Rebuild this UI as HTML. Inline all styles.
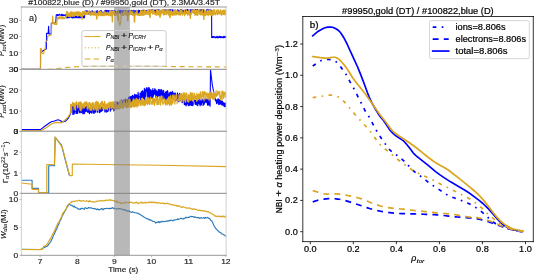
<!DOCTYPE html>
<html><head><meta charset="utf-8"><title>figure</title><style>
html,body{margin:0;padding:0;background:#fff;}
body{width:534px;height:274px;overflow:hidden;font-family:"Liberation Sans",sans-serif;}
svg{display:block;will-change:transform;}
</style></head><body>
<svg width="534" height="274" viewBox="0 0 534 274" version="1.1">
 
 <defs>
  <style type="text/css">*{stroke-linejoin: round; stroke-linecap: butt}</style>
 </defs>
 <g id="figure_1">
  <g id="patch_1">
   <path d="M 0 274 
L 534 274 
L 534 0 
L 0 0 
z
" style="fill: #ffffff"/>
  </g>
  <g id="axes_1">
   <g id="patch_2">
    <path d="M 21.4 69.4 
L 226.1 69.4 
L 226.1 7 
L 21.4 7 
z
" style="fill: #ffffff"/>
   </g>
   <g id="matplotlib.axis_1"/>
   <g id="matplotlib.axis_2">
    <g id="ytick_1">
     <g id="line2d_1">
      <defs>
       <path id="me94142550b" d="M 0 0 
L -1.9 0 
" style="stroke: #888888; stroke-width: 0.6"/>
      </defs>
      <g>
       <use href="#me94142550b" x="21.4" y="20.4" style="fill: #888888; stroke: #888888; stroke-width: 0.6"/>
      </g>
     </g>
     <g id="text_1">
      <text style="font-size: 7.696px; font-family: 'Liberation Sans', sans-serif; text-anchor: end; fill: #1c1c1c; stroke: #1c1c1c; stroke-width: 0.15px; stroke-linejoin: round" textLength="9.416" lengthAdjust="spacingAndGlyphs" x="18.3" y="23.211422" transform="rotate(-0 18.3 23.211422)">30</text>
     </g>
    </g>
    <g id="ytick_2">
     <g id="line2d_2">
      <g>
       <use href="#me94142550b" x="21.4" y="36.5" style="fill: #888888; stroke: #888888; stroke-width: 0.6"/>
      </g>
     </g>
     <g id="text_2">
      <text style="font-size: 7.696px; font-family: 'Liberation Sans', sans-serif; text-anchor: end; fill: #1c1c1c; stroke: #1c1c1c; stroke-width: 0.15px; stroke-linejoin: round" textLength="9.416" lengthAdjust="spacingAndGlyphs" x="18.3" y="39.311422" transform="rotate(-0 18.3 39.311422)">20</text>
     </g>
    </g>
    <g id="ytick_3">
     <g id="line2d_3">
      <g>
       <use href="#me94142550b" x="21.4" y="52.9" style="fill: #888888; stroke: #888888; stroke-width: 0.6"/>
      </g>
     </g>
     <g id="text_3">
      <text style="font-size: 7.696px; font-family: 'Liberation Sans', sans-serif; text-anchor: end; fill: #1c1c1c; stroke: #1c1c1c; stroke-width: 0.15px; stroke-linejoin: round" textLength="9.416" lengthAdjust="spacingAndGlyphs" x="18.3" y="55.711422" transform="rotate(-0 18.3 55.711422)">10</text>
     </g>
    </g>
    <g id="ytick_4">
     <g id="line2d_4">
      <g>
       <use href="#me94142550b" x="21.4" y="69.4" style="fill: #888888; stroke: #888888; stroke-width: 0.6"/>
      </g>
     </g>
     <g id="text_4">
      <text style="font-size: 7.696px; font-family: 'Liberation Sans', sans-serif; text-anchor: end; fill: #1c1c1c; stroke: #1c1c1c; stroke-width: 0.15px; stroke-linejoin: round" textLength="4.708" lengthAdjust="spacingAndGlyphs" x="18.3" y="72.211422" transform="rotate(-0 18.3 72.211422)">0</text>
     </g>
    </g>
   </g>
   <g id="line2d_5">
    <path d="M 21.4 69.4 
L 40.5 69.4 
L 40.6 53 
L 41.6 51.7 
L 44.9 49.5 
L 46.3 49 
L 46.6 33.4 
L 48.2 33.4 
L 48.6 26.3 
L 49 34 
L 51.2 34 
L 51.3 23.4 
L 55.8 22.3 
L 56.2 15 
L 56.4 15.328128 
L 56.65 15.254932 
L 56.9 14.448235 
L 57.15 14.430551 
L 57.4 15.271931 
L 57.65 15.530385 
L 57.9 14.53703 
L 58.15 14.557311 
L 58.4 15.358446 
L 58.65 14.927653 
L 59.15 14.731612 
L 59.4 14.37248 
L 59.65 14.897421 
L 59.9 14.665642 
L 60.15 14.790135 
L 60.65 15.314051 
L 60.9 15.230548 
L 61.15 15.392631 
L 61.4 14.320479 
L 61.65 15.273224 
L 61.9 15.096614 
L 62.15 15.527843 
L 62.4 15.630836 
L 62.65 14.314399 
L 62.9 15.499998 
L 63.15 14.602238 
L 63.4 15.230482 
L 63.9 15.522615 
L 64.15 15.632645 
L 64.4 15.245149 
L 64.65 15.537278 
L 65.15 14.576687 
L 65.4 14.485902 
L 66 16.8 
L 66.5 17.05 
L 66.75 17.919924 
L 67 16.238222 
L 67.25 17.916959 
L 67.5 16.542426 
L 67.75 16.776879 
L 68 17.713194 
L 68.25 16.744556 
L 68.5 17.157458 
L 68.75 16.044343 
L 69 17.580797 
L 69.5 16.577593 
L 69.75 17.643954 
L 70 16.5257 
L 70.25 16.850445 
L 70.5 16.220943 
L 70.75 16.730948 
L 71 16.34159 
L 71.25 16.448395 
L 71.5 17.575019 
L 71.75 16.482255 
L 72 16.940125 
L 72.25 17.969059 
L 72.5 17.938166 
L 73 17.135821 
L 73.25 16.475631 
L 73.5 16.266601 
L 73.75 17.951584 
L 74.25 16.190139 
L 74.5 17.326685 
L 74.75 17.622888 
L 75 17.304296 
L 75.25 17.865328 
L 75.5 16.063867 
L 75.75 17.101341 
L 76 16.865664 
L 76.25 16.10107 
L 76.5 17.363921 
L 76.75 17.756279 
L 77 17.26025 
L 77.25 16.444285 
L 77.5 17.734321 
L 77.75 17.041962 
L 78 17.046818 
L 78.25 17.579912 
L 78.5 16.244673 
L 78.75 17.699099 
L 79 17.448053 
L 79.25 17.641574 
L 79.5 16.320644 
L 79.75 17.668726 
L 80 16.320129 
L 80.25 16.132765 
L 80.5 17.760727 
L 81 17.797022 
L 81.25 16.900076 
L 81.75 16.011363 
L 82 17.372942 
L 82.5 17.726858 
L 82.75 16.485028 
L 83 16.362568 
L 83.25 17.359802 
L 83.75 17.941438 
L 84 16.249143 
L 84.5 17.827659 
L 84.7 12.5 
L 85 11.394188 
L 85.25 11.531252 
L 85.5 13.874092 
L 85.75 10.794322 
L 86 13.042743 
L 86.25 13.556612 
L 86.5 11.116444 
L 86.75 10.665496 
L 87 11.427779 
L 87.25 13.271393 
L 87.5 12.854206 
L 87.75 10.975455 
L 88.25 13.308927 
L 88.5 12.020847 
L 89 14.351843 
L 89.25 13.353142 
L 89.5 11.872929 
L 89.75 11.088681 
L 90.25 12.546672 
L 90.5 14.085327 
L 90.75 13.68298 
L 91 11.559818 
L 91.25 14.186793 
L 91.5 12.236605 
L 91.75 13.369723 
L 92 10.797993 
L 92.25 10.787214 
L 92.5 11.118519 
L 92.75 14.038912 
L 93 13.303341 
L 93.25 13.914636 
L 93.5 13.157624 
L 93.75 11.901801 
L 94.5 13.945313 
L 94.75 12.039095 
L 95 14.041126 
L 95.25 13.012784 
L 95.5 13.823019 
L 95.75 12.378909 
L 96 13.322713 
L 96.25 11.59827 
L 96.5 12.562976 
L 96.75 11.135499 
L 97.25 10.53404 
L 97.5 13.343745 
L 97.75 12.10346 
L 98 14.027573 
L 98.25 13.814429 
L 98.5 11.76807 
L 98.75 14.266378 
L 99 12.88271 
L 99.25 13.561543 
L 99.5 11.855143 
L 99.75 11.041276 
L 100.25 10.985426 
L 100.5 12.919709 
L 100.75 10.749548 
L 101 10.446678 
L 101.25 13.775724 
L 101.5 10.700131 
L 101.75 12.038498 
L 102 12.24914 
L 102.25 12.972865 
L 102.5 12.382385 
L 102.75 14.106492 
L 103.25 12.762794 
L 103.5 12.948191 
L 103.75 12.390845 
L 104 14.181109 
L 104.25 11.11275 
L 104.5 13.224933 
L 104.75 12.656878 
L 105 10.487687 
L 105.25 11.358201 
L 105.5 14.044098 
L 105.75 13.561416 
L 106 10.387653 
L 106.25 11.351786 
L 106.5 10.374461 
L 106.75 13.699653 
L 107 10.694523 
L 107.25 10.520491 
L 107.5 14.197549 
L 107.75 11.96241 
L 108 11.419979 
L 108.25 10.486004 
L 108.5 11.701755 
L 108.75 11.60182 
L 109 12.451191 
L 109.25 10.3449 
L 109.5 10.800402 
L 109.75 11.010191 
L 110 11.916722 
L 110.25 11.340272 
L 110.5 12.864031 
L 110.75 11.27321 
L 111 13.928511 
L 111.25 14.093595 
L 111.5 10.495201 
L 111.75 10.991484 
L 112 12.626647 
L 112.25 13.445984 
L 112.5 10.502455 
L 112.75 10.899934 
L 113.5 13.881424 
L 113.75 13.759392 
L 114 13.50881 
L 114.25 10.453338 
L 114.5 14.105077 
L 114.75 12.828479 
L 115 10.554842 
L 115.25 11.125545 
L 115.5 12.846697 
L 115.75 11.6232 
L 116 11.893506 
L 116.25 13.522996 
L 116.5 13.586746 
L 116.75 12.503264 
L 117 13.473464 
L 117.25 11.697 
L 117.5 14.065796 
L 117.75 12.759722 
L 118 14.039069 
L 118.25 10.395933 
L 118.5 13.761132 
L 118.75 12.545728 
L 119 13.172573 
L 119.25 10.875574 
L 119.5 12.486955 
L 119.75 11.213847 
L 120 10.579806 
L 120.25 10.253514 
L 120.5 13.818414 
L 120.75 12.994799 
L 121 10.904389 
L 121.25 11.087492 
L 121.5 11.940932 
L 121.75 13.512861 
L 122 10.604136 
L 122.25 13.99338 
L 122.5 13.915504 
L 122.75 11.028626 
L 123 12.85507 
L 123.25 11.455415 
L 123.5 13.067327 
L 123.75 10.491539 
L 124 11.942093 
L 124.25 12.625788 
L 124.75 13.038024 
L 125 13.7207 
L 125.25 10.996546 
L 125.5 10.694241 
L 126 12.52134 
L 126.25 13.927437 
L 126.5 13.086031 
L 126.75 13.184491 
L 127 13.957378 
L 127.25 11.074505 
L 127.5 11.042884 
L 127.75 11.678952 
L 128 11.168877 
L 128.5 13.875558 
L 128.75 10.670154 
L 129 12.23407 
L 129.25 12.936287 
L 129.5 12.033644 
L 129.75 13.742111 
L 130 13.146177 
L 130.25 13.635394 
L 130.5 10.520393 
L 130.75 10.795919 
L 131 10.369713 
L 131.25 13.451352 
L 131.5 13.877903 
L 131.75 10.20299 
L 132 13.308426 
L 132.25 13.091105 
L 132.5 13.695118 
L 132.75 11.03936 
L 133 13.036535 
L 133.25 10.919066 
L 133.5 10.383623 
L 133.75 13.137728 
L 134 10.273829 
L 134.25 12.968661 
L 134.5 11.072124 
L 134.75 11.947403 
L 135 13.615331 
L 135.25 10.923894 
L 135.5 11.831004 
L 136 10.736496 
L 136.25 11.853066 
L 136.5 10.703277 
L 136.75 13.292745 
L 137 12.614548 
L 137.25 11.048489 
L 137.5 13.844866 
L 137.75 11.275455 
L 138 12.826023 
L 138.25 13.049914 
L 138.5 10.974387 
L 138.75 10.144981 
L 139 13.576446 
L 139.25 13.774395 
L 139.5 10.641983 
L 139.75 10.585375 
L 140.5 13.848933 
L 140.75 13.761943 
L 141 13.827982 
L 141.25 10.849542 
L 141.5 12.467108 
L 142 10.774262 
L 142.25 10.222743 
L 142.5 10.545637 
L 142.75 11.211439 
L 143 10.267665 
L 143.25 10.460322 
L 143.5 10.114498 
L 143.75 12.487104 
L 144 11.795516 
L 144.25 10.737531 
L 144.5 12.022879 
L 144.75 11.414783 
L 145.25 13.508641 
L 145.5 11.095073 
L 145.75 12.505124 
L 146 10.591479 
L 146.25 13.496235 
L 146.5 12.369778 
L 146.75 10.364039 
L 147 10.688429 
L 147.25 10.347865 
L 147.5 10.405094 
L 147.75 10.840806 
L 148 13.059724 
L 148.25 11.44464 
L 148.5 10.707194 
L 148.75 11.251121 
L 149 10.654927 
L 149.25 12.71015 
L 149.5 9.948401 
L 149.75 10.706772 
L 150 10.823062 
L 150.25 10.316775 
L 150.5 12.682203 
L 150.75 10.295044 
L 151 10.703903 
L 151.25 9.879972 
L 151.5 12.708226 
L 151.75 10.917694 
L 152 12.328028 
L 152.25 10.367 
L 152.5 9.729067 
L 152.75 10.723715 
L 153 12.736627 
L 153.25 12.923455 
L 153.5 10.797828 
L 153.75 12.937095 
L 154 9.764668 
L 154.25 11.658041 
L 154.5 10.427234 
L 154.75 11.131055 
L 155 10.285784 
L 155.25 13.035139 
L 155.5 10.552595 
L 155.75 13.180533 
L 156 9.87959 
L 156.25 11.036344 
L 156.5 11.090181 
L 156.75 12.360895 
L 157 10.660623 
L 157.25 11.330202 
L 157.5 9.704867 
L 157.75 10.506403 
L 158 12.372996 
L 158.25 9.790697 
L 158.5 11.113459 
L 158.75 10.206378 
L 159.25 9.805003 
L 159.5 12.6266 
L 159.75 12.17255 
L 160 10.691173 
L 160.25 10.740925 
L 160.5 12.315364 
L 160.75 11.840826 
L 161 12.94008 
L 161.25 12.950789 
L 161.5 11.168051 
L 161.75 12.06031 
L 162 11.575152 
L 162.25 10.424899 
L 162.5 11.015921 
L 162.75 12.289391 
L 163 11.613985 
L 163.25 11.956303 
L 163.5 11.197961 
L 163.75 13.055654 
L 164 12.482729 
L 164.25 9.809263 
L 164.5 12.609913 
L 164.75 12.945005 
L 165 12.618409 
L 165.25 10.548277 
L 165.5 10.644947 
L 166 9.571319 
L 166.5 12.729909 
L 167 12.071998 
L 167.25 12.719162 
L 167.5 12.060228 
L 167.75 10.116569 
L 168 12.573238 
L 168.25 10.643405 
L 168.5 12.857702 
L 168.75 10.485198 
L 169 9.684938 
L 169.25 12.320484 
L 169.5 9.734982 
L 169.75 12.793964 
L 170 10.826341 
L 170.25 12.495238 
L 170.5 9.561563 
L 170.75 11.571054 
L 171 12.127462 
L 171.25 9.80513 
L 171.5 11.859235 
L 171.75 9.848924 
L 172 10.401741 
L 172.25 10.634559 
L 172.5 11.904951 
L 172.75 9.807112 
L 173 9.986536 
L 173.25 12.499112 
L 173.5 12.270377 
L 174 10.322002 
L 174.25 12.184278 
L 174.75 10.429457 
L 175 12.808374 
L 175.25 10.043575 
L 175.5 12.577026 
L 175.75 11.897787 
L 176.25 12.147082 
L 176.5 12.385222 
L 176.75 12.828514 
L 177 12.954473 
L 177.25 10.227947 
L 177.5 9.917177 
L 177.75 12.877836 
L 178 10.050284 
L 178.25 10.111888 
L 178.5 12.580295 
L 178.75 13.096258 
L 179 12.710505 
L 179.5 10.675643 
L 179.75 13.165117 
L 180 12.342338 
L 180.25 11.943134 
L 180.5 9.433907 
L 180.75 10.021211 
L 181 9.441127 
L 181.25 12.911713 
L 181.5 10.161724 
L 181.75 9.940711 
L 182 11.749807 
L 182.25 10.047829 
L 182.75 13.045769 
L 183 12.773573 
L 183.25 10.191755 
L 183.5 12.940592 
L 183.75 10.773148 
L 184 11.462002 
L 184.25 10.479531 
L 184.5 13.199873 
L 184.75 10.413066 
L 185 12.3466 
L 185.25 11.906208 
L 185.5 12.17218 
L 185.75 9.723376 
L 186.25 13.191019 
L 186.75 10.026592 
L 187 9.561578 
L 187.25 10.49826 
L 187.5 12.375929 
L 187.75 9.475815 
L 188 9.549358 
L 188.25 12.052168 
L 188.5 12.831466 
L 188.75 10.945781 
L 189 11.923984 
L 189.25 10.23417 
L 189.5 10.288266 
L 189.75 11.126921 
L 190 10.10199 
L 190.25 11.017714 
L 190.5 9.866378 
L 190.75 12.965136 
L 191 12.017253 
L 191.25 9.692182 
L 191.5 10.01422 
L 191.75 12.659864 
L 192 10.662838 
L 192.25 10.244165 
L 192.5 9.471224 
L 192.75 12.12118 
L 193 11.695637 
L 193.25 12.696894 
L 193.5 9.936446 
L 193.75 12.399271 
L 194 12.652972 
L 194.25 12.643209 
L 194.5 12.37855 
L 195 9.545538 
L 195.25 12.002985 
L 195.5 9.478511 
L 195.75 9.665782 
L 196 10.814332 
L 196.25 9.777026 
L 196.75 12.731746 
L 197 9.951087 
L 197.25 12.55641 
L 197.5 13.192581 
L 197.75 9.514212 
L 198.25 12.240289 
L 198.5 12.326819 
L 198.75 10.314496 
L 199 12.592912 
L 199.25 10.658362 
L 199.5 10.039908 
L 199.75 11.431988 
L 200 11.876009 
L 200.25 12.688167 
L 200.5 12.078777 
L 200.75 9.657193 
L 201 11.715875 
L 201.25 10.552258 
L 201.5 12.23122 
L 201.75 9.538266 
L 202 12.053507 
L 202.25 12.534166 
L 202.5 9.52309 
L 202.75 9.446842 
L 203 12.863545 
L 203.25 12.874808 
L 203.5 9.959134 
L 203.75 12.960349 
L 204 10.803643 
L 204.25 11.439132 
L 204.5 11.104554 
L 204.75 10.517366 
L 205 12.839102 
L 205.25 11.868207 
L 205.5 12.991781 
L 205.75 11.915009 
L 206 12.967911 
L 206.25 11.416279 
L 206.5 11.12646 
L 206.75 11.700039 
L 207 9.418016 
L 207.25 12.452456 
L 207.5 9.83786 
L 207.75 13.027646 
L 208 9.535895 
L 208.25 12.242624 
L 208.5 12.455696 
L 208.75 11.560116 
L 209 9.697153 
L 209.25 12.601211 
L 209.5 10.465476 
L 209.75 10.343487 
L 210 12.184942 
L 210.25 13.113866 
L 210.5 9.698393 
L 211 12.11415 
L 211.25 10.303807 
L 211.6 11.5 
L 211.7 37.4 
L 212 36.511651 
L 212.25 36.717656 
L 212.5 37.726295 
L 212.75 37.377933 
L 213 36.508658 
L 213.25 37.022145 
L 213.5 37.115354 
L 213.75 36.587018 
L 214 37.608088 
L 214.25 36.51701 
L 214.75 37.213549 
L 215 36.992379 
L 215.75 37.889943 
L 216 36.734394 
L 216.25 37.44226 
L 216.5 37.514245 
L 216.75 36.736632 
L 217 36.330479 
L 217.25 37.890845 
L 217.5 36.734613 
L 217.75 36.755155 
L 218 37.772378 
L 218.5 37.025841 
L 218.75 37.596968 
L 219 36.339085 
L 219.25 37.49146 
L 219.75 36.407861 
L 220 37.408039 
L 220.25 37.793143 
L 220.5 36.557159 
L 220.75 37.347464 
L 221 36.684247 
L 221.25 37.515176 
L 221.5 37.482361 
L 221.75 36.555785 
L 222 37.630739 
L 222.25 37.371313 
L 222.5 37.407679 
L 222.75 37.606336 
L 223 36.8742 
L 223.25 37.511521 
L 223.5 37.675963 
L 223.75 36.36604 
L 224 37.62966 
L 224.25 36.793582 
L 224.5 36.959743 
L 224.75 36.411417 
L 225 37.396224 
L 225.25 36.614071 
L 225.5 37.637437 
L 225.75 36.581796 
L 226 37.150231 
L 226.25 36.778636 
L 226.5 37.243275 
L 226.5 37.243275 
" clip-path="url(#pbd2e91b6e9)" style="fill: none; stroke: #0000ff; stroke-width: 1.1; stroke-linecap: square"/>
   </g>
   <g id="line2d_6">
    <path d="M 21.4 69.4 
L 40.4 69.4 
L 40.4 48.5 
L 41.2 48.5 
L 42 53.5 
L 43.5 53.8 
L 45.3 47.7 
L 45.7 41.8 
L 47.3 40.4 
L 47.5 36.5 
L 51.5 34.5 
L 51.7 23.4 
L 52.3 23.3 
L 52.7 16.1 
L 53.1 22.7 
L 53.3 23.830862 
L 53.55 23.524494 
L 53.8 23.770624 
L 54.05 22.452441 
L 54.3 23.684744 
L 54.55 24.347749 
L 54.8 23.191348 
L 55.05 22.634304 
L 55.3 24.418364 
L 55.55 23.955138 
L 55.8 22.887633 
L 56.05 24.018815 
L 56.3 24.616941 
L 56.55 23.016609 
L 56.8 24.458384 
L 57.3 17.8 
L 58 16.787721 
L 58.25 18.40461 
L 58.5 17.725367 
L 58.75 19.174301 
L 59 18.880787 
L 59.25 18.84805 
L 59.5 16.708141 
L 59.75 18.123476 
L 60 18.279996 
L 60.25 16.705384 
L 60.5 17.790564 
L 61 17.07429 
L 61.25 18.757022 
L 61.75 16.819463 
L 62 17.454962 
L 62.25 19.019633 
L 62.5 17.511714 
L 63 16.740771 
L 63.25 17.966534 
L 63.5 18.44212 
L 63.75 17.578529 
L 64 18.87353 
L 64.25 18.016398 
L 64.5 18.757986 
L 64.75 18.154631 
L 65 18.232072 
L 65.5 16.833727 
L 66 16.723405 
L 66.25 14.138065 
L 66.5 16.859604 
L 66.75 11.392135 
L 67 14.842203 
L 67.25 12.997649 
L 67.5 15.937882 
L 67.75 11.858688 
L 68 16.271988 
L 68.25 14.361116 
L 68.5 16.39958 
L 68.75 13.679663 
L 69 13.318535 
L 69.25 15.793956 
L 69.5 16.741823 
L 69.75 12.912066 
L 70 16.644667 
L 70.25 16.4434 
L 70.5 11.853566 
L 70.75 14.724043 
L 71 15.273306 
L 71.25 16.458643 
L 71.5 15.035146 
L 71.75 11.626263 
L 72 13.806001 
L 72.25 13.748965 
L 72.5 13.834918 
L 72.75 16.4561 
L 73 12.740706 
L 73.25 12.061685 
L 73.5 14.033678 
L 73.75 14.812689 
L 74 16.30369 
L 74.5 12.273407 
L 74.75 16.223627 
L 75 13.659302 
L 75.25 14.951148 
L 75.75 12.003337 
L 76 15.012435 
L 76.25 15.401084 
L 76.5 11.869362 
L 76.75 13.356271 
L 77 12.741699 
L 77.25 11.768131 
L 77.5 12.007669 
L 77.75 16.218915 
L 78 15.85845 
L 78.25 12.83581 
L 78.5 15.15327 
L 78.75 11.180471 
L 79 15.947961 
L 79.25 13.982788 
L 79.5 15.496635 
L 79.75 12.250064 
L 80 12.769731 
L 80.25 12.612656 
L 80.5 16.120728 
L 80.75 13.066687 
L 81 13.598238 
L 81.25 16.012662 
L 81.5 15.774279 
L 81.75 12.843722 
L 82 19.2 
L 82.25 19.2 
L 82.5 11.45161 
L 82.75 12.809211 
L 83 15.586688 
L 83.25 15.750679 
L 83.5 12.004304 
L 83.75 11.324393 
L 84 15.149982 
L 84.25 14.333756 
L 84.5 12.012296 
L 84.75 13.578389 
L 85 11.290007 
L 85.25 14.699708 
L 85.5 13.73568 
L 85.75 14.71792 
L 86 11.347179 
L 86.25 14.418039 
L 86.5 12.635292 
L 86.75 13.471159 
L 87 12.451443 
L 87.25 14.354713 
L 87.5 13.9874 
L 87.75 14.260936 
L 88 11.219847 
L 88.25 11.914133 
L 88.5 11.248954 
L 88.75 12.681054 
L 89 13.279927 
L 89.25 11.409259 
L 89.5 14.508619 
L 89.75 13.324005 
L 90 13.46173 
L 90.25 14.133277 
L 90.5 15.703818 
L 90.75 14.080672 
L 91 11.308471 
L 91.25 11.53141 
L 91.5 14.62368 
L 91.75 12.336751 
L 92 14.911346 
L 92.5 12.623241 
L 92.75 14.832367 
L 93 11.670737 
L 93.25 12.136163 
L 93.5 12.167709 
L 93.75 12.808824 
L 94 15.566928 
L 94.25 15.155681 
L 94.5 15.194295 
L 94.75 14.280512 
L 95 10.906116 
L 95.5 13.432694 
L 95.75 15.519685 
L 96 12.502459 
L 96.25 13.804035 
L 96.5 18.9 
L 97 18.9 
L 97.25 14.062718 
L 97.5 13.620529 
L 97.75 14.249736 
L 98 13.226538 
L 98.25 11.303448 
L 98.5 15.496411 
L 98.75 15.800743 
L 99 15.216235 
L 99.25 12.416229 
L 99.5 14.257979 
L 99.75 14.929253 
L 100 11.06685 
L 100.25 15.011597 
L 100.5 11.156299 
L 100.75 15.664757 
L 101 11.845245 
L 101.25 15.759301 
L 101.5 11.795914 
L 102 15.189328 
L 102.25 15.854699 
L 102.5 14.600597 
L 102.75 15.198947 
L 103 12.582288 
L 103.25 14.81146 
L 103.5 12.537625 
L 103.75 15.605169 
L 104 14.912798 
L 104.25 12.501215 
L 104.5 14.95892 
L 104.75 11.026175 
L 105 15.577572 
L 105.25 14.518295 
L 105.5 12.21321 
L 105.75 14.27832 
L 106 14.949013 
L 106.25 14.174992 
L 106.5 15.403246 
L 106.75 12.679451 
L 107 12.160692 
L 107.25 12.424368 
L 107.5 11.965203 
L 107.75 13.089245 
L 108 14.809859 
L 108.25 15.339942 
L 108.5 14.181299 
L 109 15.744436 
L 109.25 14.318215 
L 109.5 11.045154 
L 109.75 14.132615 
L 110 10.764323 
L 110.25 14.403154 
L 110.5 15.854324 
L 110.75 13.139868 
L 111 15.576183 
L 111.25 10.747553 
L 111.5 15.709604 
L 111.75 11.38677 
L 112 15.160834 
L 112.25 21.9 
L 112.5 21.9 
L 112.75 11.214939 
L 113 10.800667 
L 113.25 14.74854 
L 113.5 14.71765 
L 113.75 11.162943 
L 114 14.082448 
L 114.25 11.773476 
L 114.5 15.398428 
L 114.75 11.198272 
L 115.25 15.363599 
L 115.5 13.557856 
L 116 15.002324 
L 116.25 14.506458 
L 116.5 15.06559 
L 116.75 11.584725 
L 117 15.442383 
L 117.25 13.259124 
L 117.5 15.462557 
L 117.75 20 
L 118.25 20 
L 118.5 11.027628 
L 118.75 15.256499 
L 119 23 
L 119.5 23 
L 119.75 25.5 
L 120 25.5 
L 120.25 23 
L 120.75 23 
L 121 14.899817 
L 121.25 12.28211 
L 121.5 15.30592 
L 121.75 13.286028 
L 122 15.556285 
L 122.25 14.77811 
L 122.5 15.768492 
L 122.75 14.487451 
L 123 11.951877 
L 123.5 15.535162 
L 123.75 15.464724 
L 124 11.631092 
L 124.5 11.635526 
L 124.75 14.013792 
L 125 11.352399 
L 125.25 14.432244 
L 125.5 11.961374 
L 125.75 15.064727 
L 126 11.587827 
L 126.25 15.458499 
L 126.5 12.01176 
L 126.75 10.617526 
L 127 11.178156 
L 127.25 14.954921 
L 127.5 20.7 
L 128 20.7 
L 128.25 12.474765 
L 128.5 14.079669 
L 129 12.810098 
L 129.25 15.312039 
L 129.5 10.590195 
L 129.75 12.248205 
L 130 12.677745 
L 130.25 14.290149 
L 130.5 14.510637 
L 130.75 10.431647 
L 131 10.841115 
L 131.5 11.972454 
L 131.75 14.694922 
L 132 14.569426 
L 132.25 15.426778 
L 132.5 12.34109 
L 132.75 12.44394 
L 133 11.014543 
L 133.25 15.276947 
L 133.5 15.290975 
L 133.75 15.54328 
L 134 14.512033 
L 134.25 21.9 
L 134.75 21.9 
L 135 11.893461 
L 135.25 14.619635 
L 135.5 14.624972 
L 135.75 13.885643 
L 136 15.005931 
L 136.25 14.200241 
L 136.5 11.484202 
L 136.75 10.565559 
L 137 11.870644 
L 137.25 11.215066 
L 137.5 15.296872 
L 137.75 13.327417 
L 138.25 15.381519 
L 138.5 14.759374 
L 138.75 15.113029 
L 139 13.507817 
L 139.5 15.510525 
L 139.75 12.50501 
L 140.25 15.48421 
L 140.5 11.362752 
L 140.75 10.543702 
L 141.25 15.158579 
L 141.75 11.078938 
L 142 15.553623 
L 142.25 12.561537 
L 142.5 12.298088 
L 142.75 10.356299 
L 143 12.213608 
L 143.25 15.474956 
L 143.5 12.197909 
L 143.75 14.494357 
L 144 15.211208 
L 144.25 9.885867 
L 144.5 14.004015 
L 144.75 10.494453 
L 145.25 14.797195 
L 145.5 11.568647 
L 145.75 14.085771 
L 146 11.118743 
L 146.25 13.339326 
L 146.5 14.112593 
L 147 11.250142 
L 147.25 14.11287 
L 147.5 10.21579 
L 147.75 11.220448 
L 148 14.323031 
L 148.5 9.903402 
L 148.75 13.684628 
L 149 14.930543 
L 149.25 10.225405 
L 149.5 14.924683 
L 149.75 17.5 
L 150.25 17.5 
L 150.5 10.624413 
L 150.75 10.123353 
L 151 11.734646 
L 151.25 11.699972 
L 151.5 12.400416 
L 151.75 12.514481 
L 152 9.733134 
L 152.25 10.579462 
L 152.5 10.03113 
L 152.75 14.421777 
L 153 10.063432 
L 153.25 13.570878 
L 153.5 9.747812 
L 153.75 13.492613 
L 154 11.736352 
L 154.25 12.37764 
L 154.5 14.049764 
L 154.75 10.942878 
L 155 13.756274 
L 155.25 14.926111 
L 155.75 13.166424 
L 156 13.732004 
L 156.25 14.826963 
L 156.5 9.448201 
L 156.75 15.335865 
L 157 12.007018 
L 157.25 14.843652 
L 157.5 9.61302 
L 157.75 10.806378 
L 158 12.891027 
L 158.25 12.973736 
L 158.5 15.084181 
L 158.75 10.998133 
L 159 10.559426 
L 159.25 13.418715 
L 159.5 10.155595 
L 159.75 17.2 
L 160.25 17.2 
L 160.75 10.505192 
L 161 14.980235 
L 161.25 9.865205 
L 161.5 12.40043 
L 161.75 13.216359 
L 162 12.329027 
L 162.25 9.646509 
L 162.5 12.608087 
L 162.75 10.000388 
L 163 9.567755 
L 163.25 14.960374 
L 163.5 10.704495 
L 163.75 9.703809 
L 164 9.416939 
L 164.25 14.752265 
L 164.5 14.717351 
L 164.75 14.11235 
L 165 14.37746 
L 165.25 10.814742 
L 165.5 13.125086 
L 165.75 14.072625 
L 166 10.657317 
L 166.25 14.050316 
L 166.5 14.418004 
L 166.75 12.658726 
L 167 13.536699 
L 167.25 9.495197 
L 167.5 11.423177 
L 167.75 11.084755 
L 168 11.314764 
L 168.25 15.097727 
L 168.5 15.182816 
L 168.75 9.669107 
L 169 13.160604 
L 169.25 10.390709 
L 169.75 17.8 
L 170.25 17.8 
L 170.5 11.218745 
L 170.75 13.962209 
L 171 14.545264 
L 171.25 9.609216 
L 171.75 11.417822 
L 172 15.31051 
L 172.5 13.472226 
L 172.75 15.346385 
L 173 11.579407 
L 173.25 14.496526 
L 173.5 10.693956 
L 173.75 10.759508 
L 174 15.103982 
L 174.25 14.597721 
L 174.5 13.470696 
L 174.75 10.210906 
L 175 11.078627 
L 175.25 15.162363 
L 175.75 9.620423 
L 176 10.617659 
L 176.5 14.843661 
L 176.75 12.036839 
L 177 10.703085 
L 177.25 14.492799 
L 177.5 11.070027 
L 177.75 10.821521 
L 178 13.182702 
L 178.25 12.687645 
L 178.5 14.871009 
L 178.75 12.027224 
L 179 13.640605 
L 179.25 12.068994 
L 179.75 15.078404 
L 180 9.907394 
L 180.25 15.047045 
L 180.5 15.091409 
L 180.75 11.399651 
L 181 9.441612 
L 181.5 13.843328 
L 181.75 10.462638 
L 182 10.369836 
L 182.25 11.423749 
L 182.5 15.089199 
L 182.75 13.366448 
L 183 13.993345 
L 183.25 13.288286 
L 183.5 13.858321 
L 183.75 11.931515 
L 184 12.491141 
L 184.25 9.979129 
L 184.5 15.602631 
L 184.75 10.307404 
L 185 14.682769 
L 185.25 13.616089 
L 185.5 14.32274 
L 185.75 12.861352 
L 186 13.03778 
L 186.5 9.839466 
L 186.75 13.59161 
L 187 13.499349 
L 187.25 11.24513 
L 187.5 15.24315 
L 187.75 15.285035 
L 188 11.474545 
L 188.25 12.161454 
L 188.5 10.576011 
L 188.75 14.170655 
L 189 10.464699 
L 189.25 11.173345 
L 189.5 15.451025 
L 189.75 10.248523 
L 190.25 18.5 
L 190.5 18.5 
L 190.75 14.689497 
L 191 13.318863 
L 191.25 14.515236 
L 191.5 11.563185 
L 191.75 11.155555 
L 192 10.028599 
L 192.25 10.123268 
L 192.5 12.789773 
L 192.75 11.698416 
L 193 9.76798 
L 193.25 10.456727 
L 193.5 12.412589 
L 193.75 9.718472 
L 194 9.522339 
L 194.25 13.877526 
L 194.5 9.938612 
L 194.75 11.843116 
L 195 15.385489 
L 195.25 9.940143 
L 195.5 11.686989 
L 195.75 10.510139 
L 196 14.630252 
L 196.25 12.810312 
L 196.5 9.913773 
L 196.75 14.452597 
L 197 15.337702 
L 197.25 14.626907 
L 197.5 10.655962 
L 197.75 15.685394 
L 198.5 9.947533 
L 198.75 12.946179 
L 199 9.898602 
L 199.25 10.168492 
L 199.5 13.838067 
L 199.75 14.426094 
L 200 13.609924 
L 200.25 12.13401 
L 200.5 14.918239 
L 200.75 15.032103 
L 201 9.688401 
L 201.25 14.365623 
L 201.5 14.768608 
L 202 11.980578 
L 202.25 14.585974 
L 202.5 9.649508 
L 202.75 15.285066 
L 203 13.037681 
L 203.5 13.944942 
L 203.75 19.4 
L 204 19.4 
L 204.25 10.841595 
L 204.5 10.379827 
L 204.75 9.591009 
L 205 15.055672 
L 205.25 15.671359 
L 205.5 14.110016 
L 205.75 11.186694 
L 206 11.807476 
L 206.25 14.827432 
L 206.5 12.407842 
L 206.75 11.747027 
L 207 14.65432 
L 207.25 11.003143 
L 207.5 10.086243 
L 207.75 11.784288 
L 208 15.229806 
L 208.25 15.814537 
L 208.5 10.707402 
L 208.75 14.673907 
L 209 10.074551 
L 209.25 13.956419 
L 209.5 10.166803 
L 209.75 10.691676 
L 210 14.689805 
L 210.25 10.117819 
L 210.5 12.903853 
L 210.75 11.442706 
L 211 15.815716 
L 211.25 14.605401 
L 211.5 11.091694 
L 211.75 15.780931 
L 212 13.823597 
L 212.25 10.367838 
L 212.5 11.101542 
L 212.75 14.8778 
L 213 15.669058 
L 213.25 9.736796 
L 213.5 13.391215 
L 213.75 10.604659 
L 214 14.28795 
L 214.25 9.576454 
L 214.5 14.491041 
L 214.75 13.12476 
L 215 13.849386 
L 215.25 12.510599 
L 215.75 15.02979 
L 216 9.943066 
L 216.25 11.46349 
L 216.5 10.62178 
L 217 13.649268 
L 217.25 11.90715 
L 217.5 14.776864 
L 217.75 9.626197 
L 218 10.425552 
L 218.5 10.040796 
L 218.75 13.657238 
L 219 14.193622 
L 219.25 11.607363 
L 219.5 14.320675 
L 219.75 11.616335 
L 220 13.54769 
L 220.25 9.784108 
L 220.5 11.511014 
L 220.75 9.877018 
L 221 14.622828 
L 221.25 14.073517 
L 221.5 15.20132 
L 221.75 15.327722 
L 222.25 10.340941 
L 222.5 11.255066 
L 222.75 13.921173 
L 223 14.230936 
L 223.25 14.341767 
L 223.5 10.116191 
L 223.75 10.246488 
L 224 14.470032 
L 224.25 10.023227 
L 224.5 12.930119 
L 224.75 12.19007 
L 225 15.030783 
L 225.25 10.059331 
L 225.5 14.578886 
L 225.75 11.478152 
L 226 14.216888 
L 226.25 10.465337 
L 226.5 13.819136 
L 226.5 13.819136 
" clip-path="url(#pbd2e91b6e9)" style="fill: none; stroke: #daa520; stroke-width: 1.1; stroke-linecap: square"/>
   </g>
   <g id="line2d_7">
    <path d="M 21.4 69.6 
L 44 69.5 
L 52 69 
L 60 68.2 
L 68 67.3 
L 76 66.7 
L 90 66.4 
L 140 66.3 
L 226.5 67 
" clip-path="url(#pbd2e91b6e9)" style="fill: none; stroke-dasharray: 5,3.8; stroke-dashoffset: 0; stroke: #daa520; stroke-width: 1.1"/>
   </g>
   <g id="patch_3">
    <path d="M 21.4 69.4 
L 21.4 7 
" style="fill: none; stroke: #d0d0d0; stroke-linejoin: miter; stroke-linecap: square"/>
   </g>
   <g id="patch_4">
    <path d="M 226.1 69.4 
L 226.1 7 
" style="fill: none; stroke: #d0d0d0; stroke-linejoin: miter; stroke-linecap: square"/>
   </g>
   <g id="patch_5">
    <path d="M 21.4 69.4 
L 226.1 69.4 
" style="fill: none; stroke: #999999; stroke-linejoin: miter; stroke-linecap: square"/>
   </g>
   <g id="patch_6">
    <path d="M 21.4 7 
L 226.1 7 
" style="fill: none; stroke: #999999; stroke-linejoin: miter; stroke-linecap: square"/>
   </g>
  </g>
  <g id="axes_2">
   <g id="patch_7">
    <path d="M 21.4 131.3 
L 226.1 131.3 
L 226.1 69.4 
L 21.4 69.4 
z
" style="fill: #ffffff"/>
   </g>
   <g id="matplotlib.axis_3"/>
   <g id="matplotlib.axis_4">
    <g id="ytick_5">
     <g id="line2d_8">
      <g>
       <use href="#me94142550b" x="21.4" y="69.4" style="fill: #888888; stroke: #888888; stroke-width: 0.6"/>
      </g>
     </g>
     <g id="text_5">
      <text style="font-size: 7.696px; font-family: 'Liberation Sans', sans-serif; text-anchor: end; fill: #1c1c1c; stroke: #1c1c1c; stroke-width: 0.15px; stroke-linejoin: round" textLength="9.416" lengthAdjust="spacingAndGlyphs" x="18.3" y="72.211422" transform="rotate(-0 18.3 72.211422)">30</text>
     </g>
    </g>
    <g id="ytick_6">
     <g id="line2d_9">
      <g>
       <use href="#me94142550b" x="21.4" y="90.1" style="fill: #888888; stroke: #888888; stroke-width: 0.6"/>
      </g>
     </g>
     <g id="text_6">
      <text style="font-size: 7.696px; font-family: 'Liberation Sans', sans-serif; text-anchor: end; fill: #1c1c1c; stroke: #1c1c1c; stroke-width: 0.15px; stroke-linejoin: round" textLength="9.416" lengthAdjust="spacingAndGlyphs" x="18.3" y="92.911422" transform="rotate(-0 18.3 92.911422)">20</text>
     </g>
    </g>
    <g id="ytick_7">
     <g id="line2d_10">
      <g>
       <use href="#me94142550b" x="21.4" y="111.2" style="fill: #888888; stroke: #888888; stroke-width: 0.6"/>
      </g>
     </g>
     <g id="text_7">
      <text style="font-size: 7.696px; font-family: 'Liberation Sans', sans-serif; text-anchor: end; fill: #1c1c1c; stroke: #1c1c1c; stroke-width: 0.15px; stroke-linejoin: round" textLength="9.416" lengthAdjust="spacingAndGlyphs" x="18.3" y="114.011422" transform="rotate(-0 18.3 114.011422)">10</text>
     </g>
    </g>
    <g id="ytick_8">
     <g id="line2d_11">
      <g>
       <use href="#me94142550b" x="21.4" y="131.3" style="fill: #888888; stroke: #888888; stroke-width: 0.6"/>
      </g>
     </g>
     <g id="text_8">
      <text style="font-size: 7.696px; font-family: 'Liberation Sans', sans-serif; text-anchor: end; fill: #1c1c1c; stroke: #1c1c1c; stroke-width: 0.15px; stroke-linejoin: round" textLength="4.708" lengthAdjust="spacingAndGlyphs" x="18.3" y="134.111422" transform="rotate(-0 18.3 134.111422)">0</text>
     </g>
    </g>
   </g>
   <g id="line2d_12">
    <path d="M 21.4 129.6 
L 40.4 129.6 
L 45.5 125.7 
L 50.7 122 
L 54.3 121 
L 58 119.8 
L 60.1 120.5 
L 62.3 122 
L 65.3 121.3 
L 68.2 118.4 
L 70.4 114 
L 70.6 112.861904 
L 70.85 112.885664 
L 71.6 104.954568 
L 71.85 107.946782 
L 72.1 108.221365 
L 72.35 104.892833 
L 72.6 104.923961 
L 72.85 114.45783 
L 73.1 111.417488 
L 73.35 106.512006 
L 73.6 108.530655 
L 73.85 114.246274 
L 74.35 113.16881 
L 74.6 108.053876 
L 74.85 109.338032 
L 75.1 111.647778 
L 75.35 105.052931 
L 75.6 110.350563 
L 75.85 106.866229 
L 76.1 113.450279 
L 76.35 105.091787 
L 76.6 111.663729 
L 76.85 113.363107 
L 77.1 106.476287 
L 77.35 113.568285 
L 77.6 113.373289 
L 77.85 104.743902 
L 78.1 111.923909 
L 78.35 104.613774 
L 78.6 109.589503 
L 78.85 108.563773 
L 79.1 106.281089 
L 79.35 107.391051 
L 79.6 112.796593 
L 79.85 107.312414 
L 80.1 105.823067 
L 80.35 111.808652 
L 80.6 108.680635 
L 80.85 112.680926 
L 81.1 106.524274 
L 81.35 107.285035 
L 81.6 112.645304 
L 81.85 109.56826 
L 82.1 109.543109 
L 82.6 104.640458 
L 82.85 113.672524 
L 83.1 105.185136 
L 83.35 112.92365 
L 83.6 107.654502 
L 83.85 113.752267 
L 84.1 107.957789 
L 84.35 113.60633 
L 84.85 106.40542 
L 85.1 111.932218 
L 85.35 111.30272 
L 85.6 111.381518 
L 86.1 106.193577 
L 86.35 110.923894 
L 86.6 105.217963 
L 86.85 111.386683 
L 87.1 110.827986 
L 87.35 107.56995 
L 87.6 112.283986 
L 87.85 105.882601 
L 88.1 107.67808 
L 88.35 112.235291 
L 88.6 107.552668 
L 88.85 111.46715 
L 89.1 110.48885 
L 89.35 113.335898 
L 89.6 113.71157 
L 89.85 111.504307 
L 90.1 112.22494 
L 90.35 105.438317 
L 90.6 111.365278 
L 90.85 112.501007 
L 91.1 107.650883 
L 91.35 109.721411 
L 91.6 108.552468 
L 91.85 113.317992 
L 92.1 106.78373 
L 92.35 107.601631 
L 92.6 104.159444 
L 93.1 110.462826 
L 93.35 113.043956 
L 93.6 112.941081 
L 93.85 106.799199 
L 94.1 113.409819 
L 94.35 105.559926 
L 94.6 112.080254 
L 94.85 105.290839 
L 95.1 107.50487 
L 95.35 104.608518 
L 95.6 112.30273 
L 95.85 112.051938 
L 96.1 105.099703 
L 96.35 109.136084 
L 96.6 106.059297 
L 96.85 108.48304 
L 97.1 109.421417 
L 97.35 104.784802 
L 97.6 112.233958 
L 97.85 106.184 
L 98.1 107.824502 
L 98.35 104.36759 
L 98.6 103.947903 
L 99.1 106.697306 
L 99.35 112.624589 
L 99.6 112.313277 
L 99.85 108.16226 
L 100.1 107.818547 
L 100.6 112.010537 
L 100.85 106.577957 
L 101.1 111.457396 
L 101.35 107.150615 
L 101.6 109.629915 
L 101.85 110.944038 
L 102.1 108.435699 
L 102.35 110.508617 
L 102.6 110.552723 
L 102.85 103.810121 
L 103.1 104.047726 
L 103.6 105.387586 
L 103.85 105.292085 
L 104.1 104.083235 
L 104.35 105.385363 
L 104.85 111.968943 
L 105.1 106.499466 
L 105.35 106.64672 
L 105.6 107.134439 
L 105.85 110.220721 
L 106.35 112.293386 
L 106.6 106.678251 
L 106.85 110.397341 
L 107.1 106.336783 
L 107.35 111.336257 
L 107.6 105.358296 
L 107.85 111.673115 
L 108.1 108.210541 
L 108.35 110.471958 
L 108.85 106.029599 
L 109.1 107.919193 
L 109.35 103.892103 
L 109.6 103.827651 
L 109.85 108.481185 
L 110.1 107.584556 
L 110.35 111.116739 
L 110.6 103.464506 
L 110.85 108.485761 
L 111.1 107.430573 
L 111.6 109.811327 
L 111.85 107.750373 
L 112.1 108.103428 
L 112.35 107.013713 
L 112.6 108.440481 
L 112.85 104.484786 
L 113.1 107.632284 
L 113.35 108.675772 
L 113.6 103.801351 
L 113.85 110.893481 
L 114.1 109.003842 
L 114.35 110.451093 
L 114.6 104.288951 
L 114.85 105.558349 
L 115.35 102.214265 
L 115.6 101.932983 
L 115.85 103.510809 
L 116.1 109.099553 
L 116.35 102.732078 
L 116.6 107.609871 
L 116.85 103.209921 
L 117.1 101.810974 
L 117.35 102.626403 
L 117.6 107.142658 
L 117.85 105.295128 
L 118.1 105.803932 
L 118.6 102.836376 
L 118.85 104.701957 
L 119.1 108.349757 
L 119.35 102.058431 
L 119.6 106.82041 
L 119.85 102.25912 
L 120.1 101.753653 
L 120.35 102.613898 
L 120.6 100.861175 
L 120.85 107.660206 
L 121.1 102.622093 
L 121.6 99.860009 
L 121.85 100.142595 
L 122.1 101.068251 
L 122.6 104.411305 
L 122.85 106.95747 
L 123.1 106.259982 
L 123.35 100.736913 
L 123.85 106.089017 
L 124.1 99.490616 
L 124.35 105.412248 
L 124.6 101.357109 
L 124.85 104.691808 
L 125.1 100.570277 
L 125.35 103.329459 
L 125.6 102.102527 
L 125.85 98.793587 
L 126.1 103.94353 
L 126.35 104.238285 
L 126.6 101.284439 
L 126.85 100.312529 
L 127.1 104.640412 
L 127.35 99.98893 
L 127.6 103.984095 
L 127.85 100.12292 
L 128.1 99.657844 
L 128.35 99.459131 
L 128.6 97.407029 
L 128.85 98.654915 
L 129.1 98.2363 
L 129.35 97.116999 
L 129.6 100.66126 
L 129.85 99.443252 
L 130.1 96.584534 
L 130.35 97.219082 
L 130.6 102.887935 
L 130.85 96.814703 
L 131.1 98.328914 
L 131.35 102.898975 
L 131.6 96.282735 
L 131.85 98.288665 
L 132.1 101.737739 
L 132.35 95.268637 
L 132.6 95.440354 
L 132.85 102.403768 
L 133.1 100.578718 
L 133.35 96.396335 
L 133.6 98.248529 
L 133.85 96.054743 
L 134.1 101.834533 
L 134.35 102.175459 
L 134.6 94.351612 
L 134.85 98.444214 
L 135.1 94.91741 
L 135.35 96.678943 
L 135.6 100.260322 
L 135.85 99.948552 
L 136.1 94.442551 
L 136.6 96.34246 
L 136.85 95.82299 
L 137.1 99.274264 
L 137.35 100.141481 
L 137.6 94.974586 
L 137.85 95.980793 
L 138.1 92.379591 
L 138.35 94.938132 
L 138.6 101.13553 
L 138.85 96.525232 
L 139.35 97.746266 
L 139.6 97.199779 
L 139.85 99.572584 
L 140.1 93.027688 
L 140.35 93.478912 
L 140.6 100.121073 
L 140.85 95.655595 
L 141.1 100.649862 
L 141.35 91.231748 
L 141.6 98.868916 
L 141.85 94.720667 
L 142.1 94.629918 
L 142.35 99.615594 
L 142.6 90.482509 
L 142.85 95.197461 
L 143.1 91.428573 
L 143.35 92.347637 
L 143.6 98.64698 
L 143.85 92.801358 
L 144.1 98.159927 
L 144.35 88.378844 
L 144.6 100.208586 
L 144.85 99.718187 
L 145.1 96.654518 
L 145.35 89.714109 
L 145.6 96.224091 
L 145.85 89.382524 
L 146.1 91.498851 
L 146.35 87.679484 
L 146.6 88.055261 
L 146.85 88.981858 
L 147.1 89.249356 
L 147.35 97.977905 
L 147.6 89.941483 
L 147.85 97.755272 
L 148.1 87.522817 
L 148.35 88.041435 
L 148.6 88.08682 
L 148.85 98.644983 
L 149.1 97.460439 
L 149.35 87.705993 
L 149.6 98.497732 
L 149.85 89.798964 
L 150.1 90.201778 
L 150.35 94.676325 
L 150.6 89.595791 
L 150.85 98.650348 
L 151.1 91.322799 
L 151.35 94.403794 
L 151.6 94.398143 
L 151.85 90.398566 
L 152.1 96.151196 
L 152.35 98.492826 
L 152.6 94.584041 
L 152.85 88.557209 
L 153.1 96.706843 
L 153.35 95.286498 
L 153.6 92.862478 
L 153.85 95.09359 
L 154.1 90.221121 
L 154.35 90.633439 
L 154.6 93.337816 
L 154.85 88.546012 
L 155.1 94.26467 
L 155.35 89.589449 
L 155.6 90.27928 
L 155.85 97.345498 
L 156.35 90.3318 
L 156.6 95.700558 
L 156.85 98.328717 
L 157.35 96.764125 
L 157.6 91.416106 
L 157.85 94.737987 
L 158.1 94.807527 
L 158.35 89.365533 
L 158.6 96.02405 
L 158.85 94.137968 
L 159.1 94.198493 
L 159.35 96.590701 
L 159.6 89.514141 
L 159.85 90.722006 
L 160.1 98.882748 
L 160.35 91.624178 
L 160.6 91.253658 
L 160.85 89.708308 
L 161.1 91.89118 
L 161.35 95.144171 
L 161.6 89.584648 
L 161.85 91.810189 
L 162.1 91.552285 
L 162.35 90.688961 
L 162.6 97.712229 
L 162.85 99.205303 
L 163.1 98.869718 
L 163.6 90.191962 
L 164.1 95.198581 
L 164.35 93.204361 
L 164.6 97.543381 
L 164.85 97.702666 
L 165.1 99.096956 
L 165.35 94.451948 
L 165.6 92.061024 
L 165.85 99.362118 
L 166.1 99.185364 
L 166.35 91.225811 
L 166.6 92.009613 
L 166.85 97.28906 
L 167.35 100.053817 
L 167.6 90.592891 
L 167.85 92.052967 
L 168.6 98.700216 
L 168.85 96.491713 
L 169.1 96.013618 
L 169.35 92.756278 
L 169.6 97.612852 
L 169.85 96.927472 
L 170.1 100.280517 
L 170.35 92.489383 
L 170.6 91.983441 
L 170.85 94.079079 
L 171.1 93.84574 
L 171.35 95.245943 
L 171.6 92.54881 
L 171.85 98.438399 
L 172.1 99.487308 
L 172.35 91.351221 
L 172.6 100.261743 
L 172.85 92.103833 
L 173.35 95.996341 
L 173.6 95.243512 
L 173.85 93.304979 
L 174.1 98.915575 
L 174.35 99.878391 
L 174.6 93.53572 
L 174.85 93.054513 
L 175.1 96.872604 
L 175.35 93.060088 
L 175.6 100.896368 
L 175.85 100.265768 
L 176.1 100.197235 
L 176.35 95.722825 
L 176.6 99.932863 
L 176.85 95.666804 
L 177.1 96.461274 
L 177.35 93.362362 
L 177.6 92.920388 
L 177.85 99.254245 
L 178.1 94.288045 
L 178.35 101.704468 
L 178.6 98.419774 
L 178.85 98.612615 
L 179.1 101.425299 
L 179.35 95.546404 
L 179.6 93.375684 
L 180.1 97.33669 
L 180.35 94.69969 
L 180.6 95.819395 
L 180.85 100.583074 
L 181.1 96.830545 
L 181.35 96.600434 
L 181.6 95.811294 
L 182.1 102.754234 
L 182.35 95.868767 
L 182.6 102.1441 
L 182.85 101.87332 
L 183.1 100.72245 
L 183.35 100.410999 
L 183.6 100.401744 
L 183.85 97.087177 
L 184.35 104.629827 
L 184.6 103.140917 
L 184.85 100.916775 
L 185.1 100.940867 
L 185.35 104.75462 
L 185.6 98.476774 
L 185.85 99.942401 
L 186.1 105.853755 
L 186.35 103.901085 
L 186.6 105.070953 
L 186.85 102.917937 
L 187.1 99.130836 
L 187.35 102.942288 
L 187.6 103.728554 
L 187.85 99.405885 
L 188.35 105.783795 
L 188.6 99.243579 
L 188.85 99.146362 
L 189.1 99.485767 
L 189.35 104.116826 
L 189.6 105.493485 
L 189.85 99.808587 
L 190.1 105.199014 
L 190.35 100.226473 
L 190.85 104.682565 
L 191.1 99.561174 
L 191.6 105.345049 
L 191.85 101.144352 
L 192.1 104.909394 
L 192.35 101.96194 
L 192.6 105.819355 
L 192.85 101.495382 
L 193.1 105.077746 
L 193.35 99.289035 
L 193.6 101.020174 
L 193.85 99.7172 
L 194.1 101.518454 
L 194.35 101.530671 
L 194.6 100.327517 
L 194.85 101.64408 
L 195.1 104.13508 
L 195.35 103.328204 
L 195.6 100.342031 
L 195.85 104.348895 
L 196.1 104.332296 
L 196.35 101.664647 
L 196.6 102.005348 
L 196.85 99.87362 
L 197.1 105.178433 
L 197.35 101.140083 
L 197.6 100.674234 
L 197.85 105.770226 
L 198.1 100.760704 
L 198.35 100.025977 
L 199.1 103.637872 
L 199.35 101.463033 
L 199.6 104.170399 
L 199.85 98.921808 
L 200.1 105.773942 
L 200.35 102.019117 
L 200.85 101.878968 
L 201.1 100.538565 
L 201.35 105.075146 
L 201.85 99.350634 
L 202.35 102.274237 
L 202.6 101.146297 
L 202.85 99.386842 
L 203.1 105.560577 
L 203.35 99.691308 
L 203.6 104.506296 
L 203.85 101.672749 
L 204.1 102.412587 
L 204.35 104.136371 
L 204.6 98.847346 
L 204.85 102.330509 
L 205.35 101.710294 
L 205.6 98.743757 
L 205.85 98.802681 
L 206.1 102.333529 
L 206.35 101.957618 
L 206.6 100.944358 
L 206.85 99.446903 
L 207.1 101.166777 
L 207.35 104.115301 
L 207.6 105.142369 
L 207.85 104.771541 
L 208.1 98.726097 
L 208.85 105.114401 
L 209.1 103.237904 
L 209.35 105.03434 
L 209.6 104.244956 
L 209.85 99.148306 
L 210.1 106.184384 
L 210.5 69.8 
L 212.3 85 
L 215.5 100.880162 
L 215.75 99.429911 
L 216.25 99.833129 
L 216.5 103.782298 
L 216.75 102.022829 
L 217 102.366466 
L 217.25 99.99398 
L 217.5 102.593237 
L 217.75 99.127603 
L 218 98.899747 
L 218.25 103.771349 
L 218.5 98.92817 
L 218.75 104.563958 
L 219 103.939811 
L 219.25 103.827026 
L 219.5 99.559857 
L 219.75 100.427132 
L 220 104.426639 
L 220.25 101.888799 
L 220.5 103.469081 
L 220.75 100.461774 
L 221 100.874258 
L 221.5 104.557377 
L 221.75 103.415561 
L 222 100.949455 
L 222.25 105.345758 
L 222.5 101.32056 
L 223 104.221323 
L 223.25 102.510195 
L 223.5 103.161168 
L 223.75 105.998463 
L 224 103.597725 
L 224.25 104.420165 
L 224.5 106.6319 
L 224.75 102.943014 
L 225 106.497563 
L 225.25 103.587306 
L 225.5 103.441932 
L 225.75 106.719414 
L 226 102.565613 
L 226.25 106.750609 
L 226.5 106.583269 
L 226.5 106.583269 
" clip-path="url(#pb6e6c9d024)" style="fill: none; stroke: #0000ff; stroke-width: 1.1; stroke-linecap: square"/>
   </g>
   <g id="line2d_13">
    <path d="M 21.4 130.6 
L 41.2 130.6 
L 46.3 127.8 
L 52.1 123.5 
L 56.5 122.4 
L 61.6 122.7 
L 64.5 120.5 
L 68.2 116.9 
L 70.4 113.2 
L 70.6 104.36405 
L 70.85 111.380094 
L 71.1 104.272292 
L 71.35 109.688978 
L 71.6 110.384994 
L 71.85 104.996218 
L 72.1 105.522049 
L 72.35 104.790082 
L 72.6 102.350252 
L 72.85 106.045796 
L 73.1 103.505882 
L 73.35 103.644848 
L 73.6 102.994798 
L 73.85 103.06988 
L 74.1 109.812409 
L 74.35 105.292049 
L 74.6 103.609241 
L 74.85 107.64697 
L 75.1 107.785664 
L 75.35 108.221195 
L 75.6 110.57828 
L 75.85 102.659695 
L 76.1 104.691386 
L 76.35 103.83883 
L 76.6 101.55818 
L 76.85 102.909583 
L 77.1 104.913286 
L 77.35 104.892964 
L 77.6 107.840636 
L 77.85 105.556462 
L 78.1 107.725828 
L 78.35 103.243186 
L 78.6 102.477376 
L 78.85 104.210552 
L 79.1 102.157476 
L 79.35 104.561641 
L 79.6 105.613153 
L 79.85 108.765193 
L 80.1 110.042451 
L 80.35 101.782091 
L 80.6 110.743984 
L 80.85 108.741469 
L 81.1 110.980866 
L 81.35 102.306541 
L 82.1 108.943554 
L 82.35 103.962381 
L 82.6 105.408683 
L 82.85 103.630272 
L 83.35 106.365854 
L 83.6 107.091039 
L 83.85 108.494118 
L 84.1 103.299256 
L 84.35 107.770146 
L 84.6 102.022878 
L 84.85 107.555772 
L 85.1 105.459693 
L 85.35 102.37215 
L 85.6 103.401436 
L 85.85 101.803031 
L 86.1 104.475511 
L 86.35 104.794805 
L 86.6 105.838454 
L 86.85 101.827134 
L 87.1 108.489492 
L 87.35 103.931416 
L 87.6 103.585858 
L 87.85 109.948311 
L 88.1 107.351834 
L 88.35 107.91876 
L 88.6 106.532902 
L 88.85 102.988132 
L 89.1 102.439704 
L 89.35 102.709464 
L 89.6 104.088527 
L 89.85 102.584073 
L 90.1 105.581039 
L 90.35 110.446344 
L 90.6 108.582529 
L 90.85 103.783876 
L 91.1 103.737606 
L 91.35 108.922344 
L 91.6 110.45109 
L 92.1 103.274055 
L 92.35 105.159859 
L 92.6 102.435383 
L 92.85 104.971745 
L 93.1 109.741345 
L 93.35 102.791612 
L 94.1 110.151951 
L 94.6 105.029813 
L 94.85 107.657954 
L 95.1 103.548256 
L 95.35 101.923831 
L 95.6 109.184848 
L 95.85 105.283648 
L 96.1 109.909254 
L 96.35 102.614882 
L 96.6 101.249091 
L 96.85 106.069472 
L 97.35 110.335752 
L 97.6 107.422393 
L 97.85 101.830121 
L 98.1 106.588608 
L 98.6 102.550654 
L 98.85 108.959093 
L 99.1 108.071864 
L 99.35 108.854844 
L 99.6 107.089845 
L 99.85 107.899615 
L 100.1 107.793278 
L 100.35 103.089061 
L 100.85 109.308435 
L 101.1 104.113164 
L 101.6 101.245128 
L 101.85 101.668223 
L 102.1 104.760312 
L 102.35 101.217985 
L 102.6 107.63825 
L 102.85 108.028961 
L 103.1 109.697919 
L 103.35 108.171565 
L 103.6 104.62858 
L 103.85 108.433462 
L 104.1 108.277646 
L 104.35 101.529091 
L 104.6 101.237461 
L 104.85 102.511763 
L 105.1 109.723971 
L 105.35 104.123419 
L 105.6 108.704027 
L 105.85 103.957065 
L 106.1 107.263478 
L 106.35 104.027698 
L 106.6 108.692452 
L 106.85 105.800247 
L 107.1 109.615842 
L 107.35 108.596093 
L 107.6 109.855662 
L 107.85 103.610261 
L 108.1 103.131906 
L 108.35 107.164976 
L 108.6 107.667792 
L 109.1 102.104598 
L 109.35 102.874642 
L 109.6 109.909079 
L 109.85 103.346876 
L 110.1 103.568776 
L 110.35 105.682661 
L 110.6 101.812035 
L 110.85 102.068067 
L 111.1 108.309855 
L 111.6 102.586081 
L 111.85 109.147372 
L 112.1 102.971104 
L 112.35 107.380513 
L 112.6 107.457588 
L 112.85 101.615012 
L 113.1 101.483264 
L 113.35 108.068462 
L 113.6 101.909543 
L 113.85 102.362753 
L 114.1 108.807686 
L 114.35 106.025647 
L 114.6 108.954593 
L 114.85 108.889075 
L 115.1 107.651904 
L 115.35 101.473573 
L 115.6 105.561672 
L 115.85 102.710609 
L 116.1 101.997419 
L 116.35 104.257803 
L 116.6 108.075705 
L 116.85 109.106665 
L 117.1 105.245937 
L 117.35 105.181059 
L 117.6 108.541704 
L 117.85 105.996208 
L 118.1 108.128498 
L 118.35 104.830604 
L 118.6 109.106549 
L 119.1 104.154624 
L 119.35 101.522726 
L 119.6 108.587633 
L 119.85 100.689128 
L 120.1 100.63987 
L 120.35 100.315637 
L 120.6 107.904395 
L 120.85 106.920118 
L 121.1 100.522011 
L 121.35 100.482763 
L 121.6 101.26841 
L 121.85 106.572277 
L 122.1 102.768498 
L 122.35 107.492028 
L 122.6 108.607886 
L 123.1 103.896411 
L 123.35 107.853373 
L 123.6 101.878773 
L 123.85 106.5865 
L 124.1 99.977377 
L 124.35 101.701173 
L 124.6 105.823497 
L 124.85 106.708015 
L 125.1 103.233752 
L 125.35 103.542922 
L 125.6 106.62197 
L 126.1 106.471099 
L 126.35 107.764827 
L 126.6 99.958956 
L 126.85 101.634095 
L 127.1 106.39918 
L 127.35 107.595943 
L 127.6 107.202827 
L 127.85 103.028129 
L 128.1 106.761826 
L 128.35 104.844496 
L 128.6 99.897434 
L 128.85 107.042737 
L 129.35 99.105112 
L 129.6 100.563408 
L 129.85 100.672849 
L 130.1 99.359379 
L 130.35 107.778012 
L 130.6 102.465645 
L 130.85 104.232641 
L 131.1 104.605726 
L 131.35 107.538149 
L 131.85 101.451629 
L 132.1 102.376436 
L 132.35 101.085899 
L 132.6 105.908069 
L 132.85 106.814611 
L 133.1 99.887115 
L 133.35 98.695302 
L 133.6 106.70272 
L 133.85 104.803942 
L 134.1 107.164312 
L 134.35 101.077908 
L 134.6 99.858824 
L 134.85 106.819907 
L 135.1 98.713512 
L 135.35 105.831893 
L 135.6 105.905758 
L 135.85 106.251629 
L 136.35 99.855494 
L 136.6 98.26901 
L 137.1 107.329247 
L 137.35 100.789317 
L 137.6 103.156176 
L 137.85 99.008305 
L 138.1 104.684699 
L 138.35 105.938758 
L 138.6 100.282101 
L 138.85 103.011104 
L 139.1 99.928652 
L 139.35 100.033828 
L 139.6 98.03225 
L 139.85 101.147896 
L 140.1 105.784708 
L 140.6 104.53123 
L 140.85 100.793658 
L 141.35 103.582719 
L 141.6 98.250179 
L 141.85 105.408878 
L 142.1 99.572736 
L 142.35 100.338159 
L 142.6 97.775785 
L 143.1 104.645867 
L 143.35 100.649274 
L 143.6 102.389737 
L 143.85 103.307811 
L 144.1 106.034909 
L 144.35 105.369902 
L 144.6 101.482444 
L 144.85 99.720551 
L 145.1 105.132145 
L 145.35 102.208732 
L 145.6 105.032106 
L 145.85 98.114336 
L 146.1 98.911537 
L 146.35 103.689507 
L 146.6 102.869655 
L 146.85 99.549353 
L 147.1 99.889825 
L 147.35 99.733076 
L 147.6 104.595968 
L 147.85 97.238029 
L 148.1 98.376472 
L 148.35 103.523682 
L 148.6 98.139672 
L 148.85 102.854145 
L 149.1 100.418045 
L 149.35 104.796608 
L 149.6 104.553439 
L 149.85 99.035211 
L 150.35 97.045944 
L 150.6 100.496831 
L 150.85 100.524299 
L 151.1 104.061672 
L 151.6 104.286761 
L 152.1 102.916736 
L 152.6 98.236554 
L 152.85 104.101207 
L 153.1 104.512477 
L 153.35 97.735855 
L 153.6 98.550941 
L 153.85 102.025402 
L 154.1 98.60094 
L 154.35 101.067163 
L 154.6 105.456649 
L 154.85 99.117345 
L 155.1 102.985832 
L 155.35 102.430985 
L 155.6 99.469681 
L 155.85 99.131541 
L 156.1 100.141526 
L 156.35 96.265037 
L 156.6 97.142394 
L 156.85 104.45048 
L 157.1 97.52154 
L 157.35 98.637053 
L 157.6 100.638242 
L 157.85 104.609832 
L 158.1 103.822087 
L 158.35 100.522956 
L 158.6 103.879321 
L 158.85 98.447832 
L 159.1 104.499748 
L 159.35 96.557009 
L 159.6 98.272566 
L 159.85 98.2538 
L 160.1 99.708019 
L 160.35 97.069206 
L 160.6 105.234732 
L 160.85 98.983228 
L 161.1 102.171043 
L 161.35 96.674711 
L 161.6 100.878212 
L 161.85 99.795153 
L 162.1 96.299052 
L 162.35 101.336695 
L 162.85 104.539039 
L 163.1 103.580121 
L 163.35 104.087592 
L 163.6 102.552095 
L 163.85 103.428194 
L 164.1 99.679417 
L 164.35 100.377148 
L 164.6 99.077675 
L 164.85 102.727592 
L 165.1 99.630391 
L 165.35 101.671176 
L 165.6 104.947703 
L 166.1 101.25716 
L 166.35 100.211252 
L 166.6 103.439251 
L 166.85 103.771793 
L 167.1 105.209866 
L 167.35 98.601437 
L 168.1 104.127345 
L 168.6 97.069428 
L 168.85 103.447457 
L 169.1 96.574537 
L 169.6 105.610908 
L 169.85 104.662897 
L 170.1 104.718346 
L 170.35 97.105015 
L 170.6 95.221387 
L 170.85 95.821726 
L 171.1 103.30173 
L 171.35 104.913309 
L 171.6 105.106612 
L 171.85 99.187401 
L 172.1 102.951017 
L 172.35 103.575388 
L 172.6 95.169695 
L 172.85 100.60563 
L 173.1 102.959632 
L 173.35 98.195678 
L 173.6 99.439363 
L 173.85 94.607282 
L 174.1 96.001321 
L 174.35 95.624913 
L 174.85 104.083395 
L 175.1 100.995742 
L 175.35 100.218545 
L 175.85 94.926033 
L 176.1 98.572258 
L 176.35 98.733586 
L 176.85 94.37776 
L 177.1 103.703757 
L 177.35 100.746363 
L 177.6 99.985862 
L 178.1 100.203724 
L 178.35 100.157784 
L 178.6 100.810571 
L 178.85 95.884393 
L 179.1 94.855983 
L 179.35 99.795973 
L 179.6 102.064408 
L 179.85 97.407983 
L 180.1 99.149838 
L 180.35 93.705122 
L 180.6 98.596438 
L 180.85 95.86957 
L 181.1 101.764501 
L 181.35 93.712281 
L 181.6 94.816767 
L 181.85 101.343458 
L 182.1 93.35896 
L 182.6 98.594341 
L 182.85 98.171013 
L 183.1 98.539188 
L 183.35 102.781774 
L 183.6 92.69447 
L 183.85 100.163994 
L 184.1 95.393775 
L 184.35 95.009946 
L 184.6 92.903685 
L 184.85 94.485072 
L 185.1 101.909538 
L 185.35 101.940422 
L 185.6 102.254644 
L 186.1 93.487269 
L 186.35 92.752304 
L 186.85 97.016328 
L 187.1 97.294909 
L 187.35 101.423231 
L 187.6 97.100434 
L 187.85 100.620537 
L 188.1 94.42068 
L 188.35 102.211448 
L 188.6 101.867922 
L 188.85 95.147221 
L 189.1 101.534942 
L 189.6 95.568174 
L 189.85 95.145439 
L 190.1 96.581412 
L 190.35 92.49648 
L 190.6 100.368066 
L 190.85 94.427001 
L 191.1 100.320851 
L 191.35 93.047672 
L 191.6 96.61379 
L 191.85 93.078976 
L 192.35 99.437067 
L 192.6 97.603983 
L 192.85 93.163086 
L 193.1 101.557328 
L 193.35 101.21149 
L 193.6 101.597459 
L 193.85 96.346153 
L 194.1 97.460727 
L 194.35 93.334303 
L 194.6 93.415747 
L 194.85 98.745709 
L 195.1 99.546842 
L 195.35 95.806047 
L 195.6 98.929643 
L 195.85 98.98447 
L 196.1 96.569909 
L 196.35 95.471598 
L 196.6 101.239042 
L 196.85 93.073141 
L 197.1 94.462339 
L 197.35 100.824139 
L 197.6 98.238137 
L 197.85 97.652483 
L 198.1 96.499927 
L 198.35 94.122806 
L 198.6 98.734134 
L 198.85 97.474452 
L 199.1 94.639442 
L 199.35 97.078972 
L 199.6 97.284935 
L 199.85 98.289527 
L 200.1 92.77144 
L 200.35 91.779655 
L 200.6 91.953752 
L 201.1 97.266063 
L 201.35 99.6209 
L 201.6 95.630271 
L 201.85 100.00665 
L 202.35 92.01837 
L 202.6 91.54641 
L 202.85 96.471575 
L 203.35 91.959937 
L 203.6 94.049306 
L 203.85 99.292898 
L 204.1 100.944103 
L 204.35 91.524457 
L 204.6 91.50354 
L 204.85 91.605236 
L 205.1 94.153328 
L 205.35 94.351631 
L 205.6 93.424488 
L 205.85 99.112209 
L 206.1 93.173247 
L 206.35 93.956498 
L 206.6 94.129469 
L 206.85 94.759055 
L 207.1 92.7766 
L 207.35 97.937038 
L 207.6 96.511614 
L 207.85 97.594135 
L 208.1 94.764478 
L 208.35 93.365616 
L 208.6 95.260762 
L 208.85 98.626719 
L 209.1 100.042528 
L 209.35 98.366716 
L 209.6 92.537797 
L 209.85 94.153526 
L 210.1 97.982177 
L 210.35 99.225267 
L 210.6 92.781489 
L 211.1 91.838513 
L 211.35 97.755819 
L 211.6 92.11139 
L 211.85 97.510876 
L 212.1 96.241126 
L 212.35 98.621836 
L 212.6 94.143779 
L 213.1 99.735072 
L 213.35 91.906664 
L 214.1 98.903583 
L 214.35 94.045325 
L 214.6 93.558648 
L 214.85 97.264219 
L 215.1 94.034358 
L 215.35 93.85607 
L 215.6 95.949902 
L 215.85 91.983414 
L 216.1 90.580039 
L 216.35 94.662113 
L 216.6 96.370997 
L 216.85 93.891386 
L 217.1 93.484771 
L 217.35 95.813545 
L 217.6 91.860099 
L 217.85 90.937229 
L 218.1 94.412186 
L 218.35 91.640139 
L 218.85 93.530635 
L 219.1 92.395569 
L 219.6 96.9313 
L 219.85 91.421912 
L 220.1 99.21354 
L 220.35 96.946483 
L 220.6 99.94575 
L 220.85 98.674522 
L 221.1 95.740377 
L 221.35 97.371823 
L 221.6 96.396871 
L 221.85 91.244832 
L 222.1 99.618599 
L 222.35 92.702101 
L 222.6 92.943886 
L 222.85 90.69025 
L 223.1 94.443556 
L 223.35 92.366754 
L 223.6 98.357978 
L 223.85 96.011564 
L 224.1 97.350603 
L 224.35 92.506183 
L 224.6 94.58992 
L 224.85 94.183252 
L 225.1 91.844496 
L 225.35 94.636233 
L 225.6 95.640348 
L 225.85 97.25205 
L 226.1 93.041572 
L 226.35 93.265389 
L 226.35 93.265389 
" clip-path="url(#pb6e6c9d024)" style="fill: none; stroke: #daa520; stroke-width: 1.1; stroke-linecap: square"/>
   </g>
   <g id="patch_8">
    <path d="M 21.4 131.3 
L 21.4 69.4 
" style="fill: none; stroke: #d0d0d0; stroke-linejoin: miter; stroke-linecap: square"/>
   </g>
   <g id="patch_9">
    <path d="M 226.1 131.3 
L 226.1 69.4 
" style="fill: none; stroke: #d0d0d0; stroke-linejoin: miter; stroke-linecap: square"/>
   </g>
   <g id="patch_10">
    <path d="M 21.4 131.3 
L 226.1 131.3 
" style="fill: none; stroke: #999999; stroke-linejoin: miter; stroke-linecap: square"/>
   </g>
   <g id="patch_11">
    <path d="M 21.4 69.4 
L 226.1 69.4 
" style="fill: none; stroke: #999999; stroke-linejoin: miter; stroke-linecap: square"/>
   </g>
  </g>
  <g id="axes_3">
   <g id="patch_12">
    <path d="M 21.4 193.4 
L 226.1 193.4 
L 226.1 131.3 
L 21.4 131.3 
z
" style="fill: #ffffff"/>
   </g>
   <g id="matplotlib.axis_5"/>
   <g id="matplotlib.axis_6">
    <g id="ytick_9">
     <g id="line2d_14">
      <g>
       <use href="#me94142550b" x="21.4" y="131.3" style="fill: #888888; stroke: #888888; stroke-width: 0.6"/>
      </g>
     </g>
     <g id="text_9">
      <text style="font-size: 7.696px; font-family: 'Liberation Sans', sans-serif; text-anchor: end; fill: #1c1c1c; stroke: #1c1c1c; stroke-width: 0.15px; stroke-linejoin: round" textLength="4.708" lengthAdjust="spacingAndGlyphs" x="18.3" y="134.111422" transform="rotate(-0 18.3 134.111422)">3</text>
     </g>
    </g>
    <g id="ytick_10">
     <g id="line2d_15">
      <g>
       <use href="#me94142550b" x="21.4" y="152.3" style="fill: #888888; stroke: #888888; stroke-width: 0.6"/>
      </g>
     </g>
     <g id="text_10">
      <text style="font-size: 7.696px; font-family: 'Liberation Sans', sans-serif; text-anchor: end; fill: #1c1c1c; stroke: #1c1c1c; stroke-width: 0.15px; stroke-linejoin: round" textLength="4.708" lengthAdjust="spacingAndGlyphs" x="18.3" y="155.111422" transform="rotate(-0 18.3 155.111422)">2</text>
     </g>
    </g>
    <g id="ytick_11">
     <g id="line2d_16">
      <g>
       <use href="#me94142550b" x="21.4" y="173.1" style="fill: #888888; stroke: #888888; stroke-width: 0.6"/>
      </g>
     </g>
     <g id="text_11">
      <text style="font-size: 7.696px; font-family: 'Liberation Sans', sans-serif; text-anchor: end; fill: #1c1c1c; stroke: #1c1c1c; stroke-width: 0.15px; stroke-linejoin: round" textLength="4.708" lengthAdjust="spacingAndGlyphs" x="18.3" y="175.911422" transform="rotate(-0 18.3 175.911422)">1</text>
     </g>
    </g>
    <g id="ytick_12">
     <g id="line2d_17">
      <g>
       <use href="#me94142550b" x="21.4" y="193.4" style="fill: #888888; stroke: #888888; stroke-width: 0.6"/>
      </g>
     </g>
     <g id="text_12">
      <text style="font-size: 7.696px; font-family: 'Liberation Sans', sans-serif; text-anchor: end; fill: #1c1c1c; stroke: #1c1c1c; stroke-width: 0.15px; stroke-linejoin: round" textLength="4.708" lengthAdjust="spacingAndGlyphs" x="18.3" y="196.211422" transform="rotate(-0 18.3 196.211422)">0</text>
     </g>
    </g>
   </g>
   <g id="line2d_18">
    <path d="M 21.4 180.2 
L 32.1 180.2 
L 32.1 188.4 
L 38.5 188.4 
L 38.5 192.8 
L 48.7 192.8 
L 48.7 165.7 
L 54.5 165.7 
L 55.2 137.3 
L 61.5 145 
L 65.3 160 
L 69.2 174.7 
" clip-path="url(#p4833c43dc9)" style="fill: none; stroke: #2b7bba; stroke-width: 1.15; stroke-linecap: square"/>
   </g>
   <g id="line2d_19">
    <path d="M 21.4 183 
L 32.1 184.3 
L 32.1 189.3 
L 38.5 189.3 
L 38.5 192.6 
L 46.8 192.6 
L 46.8 164.5 
L 54.4 164.5 
L 55 136.9 
L 62.3 147.3 
L 69.6 175.6 
L 72.3 175.6 
L 72.3 164 
L 120 164.8 
L 160 165.2 
L 226.5 166.6 
" clip-path="url(#p4833c43dc9)" style="fill: none; stroke: #daa520; stroke-width: 1.15; stroke-linecap: square"/>
   </g>
   <g id="patch_13">
    <path d="M 21.4 193.4 
L 21.4 131.3 
" style="fill: none; stroke: #d0d0d0; stroke-linejoin: miter; stroke-linecap: square"/>
   </g>
   <g id="patch_14">
    <path d="M 226.1 193.4 
L 226.1 131.3 
" style="fill: none; stroke: #d0d0d0; stroke-linejoin: miter; stroke-linecap: square"/>
   </g>
   <g id="patch_15">
    <path d="M 21.4 193.4 
L 226.1 193.4 
" style="fill: none; stroke: #999999; stroke-linejoin: miter; stroke-linecap: square"/>
   </g>
   <g id="patch_16">
    <path d="M 21.4 131.3 
L 226.1 131.3 
" style="fill: none; stroke: #999999; stroke-linejoin: miter; stroke-linecap: square"/>
   </g>
  </g>
  <g id="axes_4">
   <g id="patch_17">
    <path d="M 21.4 255.3 
L 226.1 255.3 
L 226.1 193.4 
L 21.4 193.4 
z
" style="fill: #ffffff"/>
   </g>
   <g id="matplotlib.axis_7">
    <g id="xtick_1">
     <g id="line2d_20">
      <defs>
       <path id="me1bfb05c69" d="M 0 0 
L 0 1.9 
" style="stroke: #888888; stroke-width: 0.6"/>
      </defs>
      <g>
       <use href="#me1bfb05c69" x="40.1" y="255.3" style="fill: #888888; stroke: #888888; stroke-width: 0.6"/>
      </g>
     </g>
     <g id="text_13">
      <text style="font-size: 7.696px; font-family: 'Liberation Sans', sans-serif; text-anchor: middle; fill: #1c1c1c; stroke: #1c1c1c; stroke-width: 0.15px; stroke-linejoin: round" textLength="4.708" lengthAdjust="spacingAndGlyphs" x="40.1" y="264.422844" transform="rotate(-0 40.1 264.422844)">7</text>
     </g>
    </g>
    <g id="xtick_2">
     <g id="line2d_21">
      <g>
       <use href="#me1bfb05c69" x="77.25" y="255.3" style="fill: #888888; stroke: #888888; stroke-width: 0.6"/>
      </g>
     </g>
     <g id="text_14">
      <text style="font-size: 7.696px; font-family: 'Liberation Sans', sans-serif; text-anchor: middle; fill: #1c1c1c; stroke: #1c1c1c; stroke-width: 0.15px; stroke-linejoin: round" textLength="4.708" lengthAdjust="spacingAndGlyphs" x="77.25" y="264.422844" transform="rotate(-0 77.25 264.422844)">8</text>
     </g>
    </g>
    <g id="xtick_3">
     <g id="line2d_22">
      <g>
       <use href="#me1bfb05c69" x="114.4" y="255.3" style="fill: #888888; stroke: #888888; stroke-width: 0.6"/>
      </g>
     </g>
     <g id="text_15">
      <text style="font-size: 7.696px; font-family: 'Liberation Sans', sans-serif; text-anchor: middle; fill: #1c1c1c; stroke: #1c1c1c; stroke-width: 0.15px; stroke-linejoin: round" textLength="4.708" lengthAdjust="spacingAndGlyphs" x="114.4" y="264.422844" transform="rotate(-0 114.4 264.422844)">9</text>
     </g>
    </g>
    <g id="xtick_4">
     <g id="line2d_23">
      <g>
       <use href="#me1bfb05c69" x="151.55" y="255.3" style="fill: #888888; stroke: #888888; stroke-width: 0.6"/>
      </g>
     </g>
     <g id="text_16">
      <text style="font-size: 7.696px; font-family: 'Liberation Sans', sans-serif; text-anchor: middle; fill: #1c1c1c; stroke: #1c1c1c; stroke-width: 0.15px; stroke-linejoin: round" textLength="9.416" lengthAdjust="spacingAndGlyphs" x="151.55" y="264.422844" transform="rotate(-0 151.55 264.422844)">10</text>
     </g>
    </g>
    <g id="xtick_5">
     <g id="line2d_24">
      <g>
       <use href="#me1bfb05c69" x="188.7" y="255.3" style="fill: #888888; stroke: #888888; stroke-width: 0.6"/>
      </g>
     </g>
     <g id="text_17">
      <text style="font-size: 7.696px; font-family: 'Liberation Sans', sans-serif; text-anchor: middle; fill: #1c1c1c; stroke: #1c1c1c; stroke-width: 0.15px; stroke-linejoin: round" textLength="9.416" lengthAdjust="spacingAndGlyphs" x="188.7" y="264.422844" transform="rotate(-0 188.7 264.422844)">11</text>
     </g>
    </g>
    <g id="xtick_6">
     <g id="line2d_25">
      <g>
       <use href="#me1bfb05c69" x="225.85" y="255.3" style="fill: #888888; stroke: #888888; stroke-width: 0.6"/>
      </g>
     </g>
     <g id="text_18">
      <text style="font-size: 7.696px; font-family: 'Liberation Sans', sans-serif; text-anchor: middle; fill: #1c1c1c; stroke: #1c1c1c; stroke-width: 0.15px; stroke-linejoin: round" textLength="9.416" lengthAdjust="spacingAndGlyphs" x="225.85" y="264.422844" transform="rotate(-0 225.85 264.422844)">12</text>
     </g>
    </g>
   </g>
   <g id="matplotlib.axis_8">
    <g id="ytick_13">
     <g id="line2d_26">
      <g>
       <use href="#me94142550b" x="21.4" y="199.6" style="fill: #888888; stroke: #888888; stroke-width: 0.6"/>
      </g>
     </g>
     <g id="text_19">
      <text style="font-size: 7.696px; font-family: 'Liberation Sans', sans-serif; text-anchor: end; fill: #1c1c1c; stroke: #1c1c1c; stroke-width: 0.15px; stroke-linejoin: round" textLength="9.416" lengthAdjust="spacingAndGlyphs" x="18.3" y="202.411422" transform="rotate(-0 18.3 202.411422)">10</text>
     </g>
    </g>
    <g id="ytick_14">
     <g id="line2d_27">
      <g>
       <use href="#me94142550b" x="21.4" y="227.4" style="fill: #888888; stroke: #888888; stroke-width: 0.6"/>
      </g>
     </g>
     <g id="text_20">
      <text style="font-size: 7.696px; font-family: 'Liberation Sans', sans-serif; text-anchor: end; fill: #1c1c1c; stroke: #1c1c1c; stroke-width: 0.15px; stroke-linejoin: round" textLength="4.708" lengthAdjust="spacingAndGlyphs" x="18.3" y="230.211422" transform="rotate(-0 18.3 230.211422)">5</text>
     </g>
    </g>
    <g id="ytick_15">
     <g id="line2d_28">
      <g>
       <use href="#me94142550b" x="21.4" y="255.3" style="fill: #888888; stroke: #888888; stroke-width: 0.6"/>
      </g>
     </g>
     <g id="text_21">
      <text style="font-size: 7.696px; font-family: 'Liberation Sans', sans-serif; text-anchor: end; fill: #1c1c1c; stroke: #1c1c1c; stroke-width: 0.15px; stroke-linejoin: round" textLength="4.708" lengthAdjust="spacingAndGlyphs" x="18.3" y="258.111422" transform="rotate(-0 18.3 258.111422)">0</text>
     </g>
    </g>
   </g>
   <g id="line2d_29">
    <path d="M 21.4 249.3 
L 40.3 249.497906 
L 42.4 248.789037 
L 43.1 248.015772 
L 43.8 247.459478 
L 44.5 247.476853 
L 45.2 247.215506 
L 45.9 246.481838 
L 46.6 246.399844 
L 47.3 246.196585 
L 48 245.381513 
L 48.7 244.207577 
L 49.4 243.555011 
L 50.1 242.461 
L 50.8 241.699969 
L 51.5 239.806807 
L 52.2 238.795708 
L 53.6 235.111277 
L 54.3 234.107888 
L 55 232.593822 
L 55.7 230.495969 
L 56.4 229.584976 
L 57.8 226.069582 
L 59.2 223.151151 
L 59.9 220.833807 
L 60.6 219.998209 
L 61.3 218.477639 
L 62 216.131298 
L 62.7 215.354794 
L 63.4 213.629019 
L 64.1 212.7402 
L 64.8 211.107439 
L 66.2 208.969998 
L 66.9 207.337753 
L 67.6 206.648398 
L 68.3 205.196596 
L 69 204.413278 
L 69.7 204.34463 
L 70.4 205.193807 
L 71.8 205.324055 
L 73.9 206.976002 
L 74.6 206.205612 
L 75.3 207.472732 
L 76.7 207.945331 
L 77.4 208.033122 
L 78.1 209.232743 
L 78.8 208.758392 
L 79.5 209.302976 
L 80.2 209.464745 
L 80.9 208.353752 
L 81.6 208.712301 
L 82.3 208.264501 
L 83.7 209.060801 
L 84.4 209.142091 
L 85.1 207.714583 
L 87.2 208.598934 
L 88.6 207.591154 
L 89.3 207.859381 
L 90 207.76704 
L 90.7 207.871548 
L 91.4 207.855792 
L 92.1 208.418398 
L 93.5 208.590313 
L 94.2 208.715266 
L 94.9 208.513136 
L 95.6 208.962696 
L 96.3 209.725115 
L 97.7 208.814624 
L 98.4 209.728536 
L 99.1 209.390037 
L 99.8 209.885238 
L 100.5 209.11225 
L 101.2 208.871849 
L 101.9 208.469621 
L 102.6 209.382603 
L 103.3 209.761551 
L 104 208.517858 
L 104.7 208.521667 
L 105.4 208.899777 
L 106.1 208.343453 
L 106.8 208.482342 
L 107.5 208.397557 
L 108.2 208.530149 
L 108.9 208.789112 
L 109.6 208.356613 
L 110.3 208.626063 
L 111 208.188594 
L 111.7 208.481396 
L 112.4 207.649399 
L 113.1 207.921407 
L 113.8 208.73857 
L 114.5 208.284559 
L 115.2 208.725192 
L 115.9 208.743154 
L 116.6 209.047242 
L 117.3 208.899706 
L 118 209.002614 
L 118.7 208.638693 
L 119.4 208.506233 
L 120.8 208.934248 
L 121.5 208.886838 
L 122.9 209.60431 
L 123.6 209.901988 
L 124.3 209.872527 
L 125 209.495065 
L 125.7 210.320271 
L 126.4 210.601656 
L 127.1 211.079566 
L 127.8 211.052885 
L 128.5 210.77602 
L 129.2 210.898577 
L 129.9 212.006241 
L 130.6 211.717988 
L 131.3 212.244801 
L 132 212.499736 
L 132.7 211.618734 
L 133.4 212.19054 
L 136.2 212.972212 
L 136.9 213.254975 
L 137.6 212.960692 
L 138.3 213.721214 
L 139 213.809975 
L 139.7 214.40831 
L 140.4 214.493075 
L 141.1 215.165736 
L 143.2 216.492477 
L 145.3 217.873334 
L 146 218.062888 
L 146.7 218.677614 
L 147.4 218.852212 
L 148.1 219.356179 
L 148.8 218.993155 
L 149.5 220.074359 
L 150.2 219.802147 
L 150.9 220.128186 
L 151.6 220.640154 
L 152.3 220.836149 
L 153 221.459301 
L 153.7 221.480524 
L 154.4 221.631238 
L 155.1 222.033599 
L 155.8 223.112898 
L 157.2 222.077666 
L 157.9 222.374165 
L 158.6 221.711583 
L 159.3 222.767444 
L 160 221.49246 
L 160.7 222.078522 
L 161.4 221.986159 
L 162.1 221.173319 
L 162.8 221.67085 
L 163.5 221.809969 
L 164.9 221.370123 
L 165.6 221.519855 
L 166.3 221.152892 
L 167 221.123228 
L 167.7 220.870035 
L 168.4 221.04442 
L 169.1 220.402707 
L 169.8 220.918213 
L 170.5 220.373144 
L 171.2 220.077175 
L 172.6 220.869247 
L 173.3 220.522204 
L 174 219.914043 
L 174.7 220.247746 
L 175.4 219.753356 
L 176.8 219.761472 
L 177.5 218.828015 
L 178.2 219.582134 
L 178.9 219.006075 
L 179.6 218.973719 
L 180.3 218.553141 
L 181 218.389753 
L 181.7 218.441775 
L 182.4 218.912247 
L 183.1 219.057772 
L 183.8 218.317206 
L 184.5 218.559524 
L 185.9 217.210946 
L 186.6 217.783978 
L 187.3 217.738854 
L 188 217.284231 
L 188.7 217.391395 
L 189.4 217.337381 
L 190.1 216.686164 
L 190.8 216.322834 
L 191.5 216.613657 
L 192.2 216.468595 
L 192.9 216.465609 
L 193.6 217.059235 
L 194.3 217.442312 
L 195 216.817187 
L 195.7 217.332282 
L 196.4 217.541655 
L 197.1 217.586591 
L 197.8 217.828264 
L 198.5 217.450066 
L 199.9 218.508569 
L 201.3 217.583037 
L 202 218.012699 
L 202.7 218.241833 
L 204.1 217.60281 
L 204.8 218.340078 
L 205.5 217.362582 
L 206.2 217.976199 
L 206.9 217.794339 
L 207.6 217.382217 
L 208.3 218.226807 
L 209 218.170409 
L 209.7 218.51054 
L 210.4 219.999794 
L 211.1 220.508399 
L 211.8 220.863754 
L 212.5 222.158883 
L 213.9 225.422496 
L 215.3 227.915808 
L 216 228.764497 
L 216.7 229.226158 
L 217.4 230.411934 
L 218.1 230.752025 
L 219.5 232.28928 
L 220.2 232.274767 
L 220.9 232.824905 
L 221.6 234.036495 
L 222.3 234.047209 
L 223 234.259293 
L 223.7 234.906086 
L 224.4 235.046358 
L 225.1 235.740782 
L 225.8 235.838587 
L 226.5 236.596607 
L 226.5 236.596607 
" clip-path="url(#p5b21f328ec)" style="fill: none; stroke: #2b7bba; stroke-width: 1.15; stroke-linecap: square"/>
   </g>
   <g id="line2d_30">
    <path d="M 21.4 249.5 
L 40.3 249.697906 
L 41.7 248.835816 
L 42.4 249.138054 
L 43.1 248.112394 
L 43.8 246.146241 
L 44.5 246.523021 
L 45.2 245.719173 
L 45.9 245.695974 
L 46.6 244.418428 
L 47.3 244.081095 
L 48 242.656165 
L 48.7 241.567455 
L 50.1 239.092873 
L 51.5 236.87153 
L 52.9 233.516498 
L 53.6 232.69628 
L 55 229.444047 
L 55.7 227.804836 
L 57.1 225.077384 
L 57.8 222.922675 
L 58.5 222.855896 
L 59.9 219.625005 
L 60.6 218.666094 
L 62 215.630049 
L 62.7 213.233833 
L 63.4 212.618444 
L 65.5 209.921881 
L 66.2 208.649043 
L 66.9 206.615659 
L 67.6 205.125259 
L 68.3 204.966331 
L 69 203.742999 
L 69.7 203.60356 
L 70.4 202.75594 
L 71.1 202.410248 
L 71.8 201.341671 
L 72.5 201.706803 
L 73.2 201.277619 
L 73.9 201.439162 
L 74.6 201.360792 
L 75.3 201.042306 
L 76 201.077547 
L 76.7 200.845238 
L 77.4 200.999053 
L 78.1 200.792277 
L 78.8 200.308474 
L 79.5 200.357871 
L 80.2 201.237581 
L 80.9 200.655351 
L 81.6 201.101678 
L 82.3 200.955867 
L 83 200.684379 
L 83.7 200.683314 
L 84.4 201.051135 
L 85.8 201.344194 
L 86.5 200.736782 
L 87.9 201.249088 
L 88.6 201.893596 
L 89.3 200.558313 
L 90 201.589106 
L 90.7 201.297442 
L 91.4 201.688482 
L 92.1 201.416349 
L 93.5 202.238248 
L 94.2 201.865635 
L 94.9 201.944398 
L 95.6 201.814371 
L 96.3 201.285777 
L 97 201.602959 
L 98.4 200.857836 
L 99.1 200.99296 
L 99.8 200.791417 
L 100.5 200.999202 
L 101.2 200.585006 
L 101.9 200.370391 
L 102.6 201.020982 
L 103.3 200.813024 
L 104 200.86719 
L 106.1 200.143191 
L 106.8 200.147801 
L 107.5 200.532958 
L 108.2 200.196128 
L 108.9 199.593663 
L 109.6 200.168411 
L 110.3 199.801378 
L 111 200.469993 
L 111.7 200.105529 
L 112.4 200.199413 
L 113.1 200.798219 
L 113.8 200.844267 
L 114.5 200.404951 
L 115.2 201.363371 
L 115.9 201.99568 
L 116.6 200.99029 
L 117.3 202.415895 
L 118 201.808397 
L 119.4 202.526863 
L 120.1 202.353802 
L 120.8 203.584519 
L 121.5 203.572443 
L 122.2 203.038273 
L 122.9 203.105587 
L 123.6 202.57312 
L 125 203.234085 
L 125.7 202.207341 
L 126.4 202.55629 
L 128.5 202.885086 
L 129.2 202.154064 
L 129.9 202.086462 
L 130.6 202.556374 
L 131.3 202.32476 
L 132 202.396557 
L 132.7 202.936292 
L 133.4 203.202801 
L 134.1 202.757611 
L 134.8 202.650446 
L 135.5 202.970828 
L 136.2 202.16342 
L 136.9 202.870828 
L 137.6 202.510753 
L 138.3 203.686676 
L 139 203.070867 
L 140.4 202.687611 
L 141.1 201.843826 
L 141.8 202.941963 
L 142.5 203.231181 
L 143.2 202.374236 
L 143.9 202.836936 
L 144.6 202.819056 
L 145.3 201.992742 
L 146 202.830517 
L 146.7 202.945602 
L 147.4 202.519818 
L 148.1 202.386157 
L 148.8 202.652479 
L 149.5 201.805849 
L 150.2 202.346182 
L 150.9 202.701987 
L 151.6 201.955807 
L 152.3 202.795752 
L 153.7 201.835447 
L 154.4 202.584417 
L 155.1 202.338957 
L 155.8 202.848554 
L 156.5 202.384256 
L 157.2 203.219794 
L 157.9 202.651299 
L 158.6 203.092308 
L 159.3 202.817382 
L 160 202.96995 
L 160.7 203.557775 
L 161.4 203.273699 
L 162.8 202.875708 
L 163.5 203.777412 
L 164.2 203.685605 
L 164.9 203.372526 
L 165.6 203.629664 
L 166.3 203.241846 
L 167.7 203.428417 
L 168.4 203.898974 
L 169.1 204.000421 
L 169.8 203.80555 
L 170.5 204.494159 
L 171.2 204.680111 
L 171.9 204.635518 
L 172.6 205.107967 
L 173.3 204.813486 
L 174 205.044036 
L 174.7 205.418626 
L 175.4 205.410741 
L 176.1 205.870052 
L 176.8 205.323285 
L 177.5 206.430268 
L 178.2 205.827336 
L 178.9 206.212668 
L 179.6 205.957704 
L 180.3 206.819453 
L 181 207.224754 
L 182.4 207.35812 
L 183.1 206.65089 
L 183.8 207.051584 
L 184.5 207.292897 
L 185.2 207.25709 
L 185.9 208.106642 
L 186.6 207.90772 
L 187.3 207.964036 
L 188 208.272692 
L 188.7 207.89844 
L 190.1 208.181899 
L 190.8 208.79403 
L 191.5 208.868874 
L 192.9 209.385653 
L 193.6 208.662616 
L 195 209.448214 
L 195.7 209.053967 
L 196.4 209.46328 
L 197.1 210.120048 
L 198.5 210.373178 
L 199.2 210.126983 
L 199.9 210.153334 
L 200.6 210.720953 
L 201.3 210.328289 
L 202.7 211.153756 
L 203.4 210.676855 
L 204.1 210.707408 
L 205.5 211.361726 
L 206.9 211.438036 
L 207.6 211.923514 
L 208.3 211.552469 
L 209.7 212.936581 
L 210.4 212.937982 
L 211.1 213.176989 
L 212.5 214.092341 
L 213.2 214.734794 
L 213.9 214.822903 
L 215.3 216.290976 
L 216 215.853736 
L 216.7 216.559658 
L 217.4 216.422573 
L 218.1 216.108062 
L 218.8 216.410257 
L 219.5 216.156358 
L 220.2 216.768777 
L 220.9 216.096417 
L 221.6 216.9629 
L 222.3 216.702366 
L 223 215.792191 
L 223.7 216.774519 
L 224.4 217.043556 
L 225.1 216.223317 
L 225.8 216.844838 
L 226.5 215.870566 
L 226.5 215.870566 
" clip-path="url(#p5b21f328ec)" style="fill: none; stroke: #daa520; stroke-width: 1.15; stroke-linecap: square"/>
   </g>
   <g id="patch_18">
    <path d="M 21.4 255.3 
L 21.4 193.4 
" style="fill: none; stroke: #d0d0d0; stroke-linejoin: miter; stroke-linecap: square"/>
   </g>
   <g id="patch_19">
    <path d="M 226.1 255.3 
L 226.1 193.4 
" style="fill: none; stroke: #d0d0d0; stroke-linejoin: miter; stroke-linecap: square"/>
   </g>
   <g id="patch_20">
    <path d="M 21.4 255.3 
L 226.1 255.3 
" style="fill: none; stroke: #999999; stroke-linejoin: miter; stroke-linecap: square"/>
   </g>
   <g id="patch_21">
    <path d="M 21.4 193.4 
L 226.1 193.4 
" style="fill: none; stroke: #999999; stroke-linejoin: miter; stroke-linecap: square"/>
   </g>
  </g>
  <g id="axes_5">
   <g id="patch_22">
    <path d="M 302.8 241.6 
L 533.3 241.6 
L 533.3 16.5 
L 302.8 16.5 
z
" style="fill: #ffffff"/>
   </g>
   <g id="matplotlib.axis_9">
    <g id="xtick_7">
     <g id="line2d_31">
      <defs>
       <path id="md6672ee7ac" d="M 0 0 
L 0 2.6 
" style="stroke: #000000; stroke-width: 0.8"/>
      </defs>
      <g>
       <use href="#md6672ee7ac" x="310.3" y="241.6" style="stroke: #000000; stroke-width: 0.8"/>
      </g>
     </g>
     <g id="text_22">
      <text style="font-size: 8.320px; font-family: 'Liberation Sans', sans-serif; text-anchor: middle; stroke: #000000; stroke-width: 0.2px; stroke-linejoin: round" textLength="12.723" lengthAdjust="spacingAndGlyphs" x="310.3" y="251.77875" transform="rotate(-0 310.3 251.77875)">0.0</text>
     </g>
    </g>
    <g id="xtick_8">
     <g id="line2d_32">
      <g>
       <use href="#md6672ee7ac" x="353.34" y="241.6" style="stroke: #000000; stroke-width: 0.8"/>
      </g>
     </g>
     <g id="text_23">
      <text style="font-size: 8.320px; font-family: 'Liberation Sans', sans-serif; text-anchor: middle; stroke: #000000; stroke-width: 0.2px; stroke-linejoin: round" textLength="12.723" lengthAdjust="spacingAndGlyphs" x="353.34" y="251.77875" transform="rotate(-0 353.34 251.77875)">0.2</text>
     </g>
    </g>
    <g id="xtick_9">
     <g id="line2d_33">
      <g>
       <use href="#md6672ee7ac" x="396.38" y="241.6" style="stroke: #000000; stroke-width: 0.8"/>
      </g>
     </g>
     <g id="text_24">
      <text style="font-size: 8.320px; font-family: 'Liberation Sans', sans-serif; text-anchor: middle; stroke: #000000; stroke-width: 0.2px; stroke-linejoin: round" textLength="12.723" lengthAdjust="spacingAndGlyphs" x="396.38" y="251.77875" transform="rotate(-0 396.38 251.77875)">0.4</text>
     </g>
    </g>
    <g id="xtick_10">
     <g id="line2d_34">
      <g>
       <use href="#md6672ee7ac" x="439.42" y="241.6" style="stroke: #000000; stroke-width: 0.8"/>
      </g>
     </g>
     <g id="text_25">
      <text style="font-size: 8.320px; font-family: 'Liberation Sans', sans-serif; text-anchor: middle; stroke: #000000; stroke-width: 0.2px; stroke-linejoin: round" textLength="12.723" lengthAdjust="spacingAndGlyphs" x="439.42" y="251.77875" transform="rotate(-0 439.42 251.77875)">0.6</text>
     </g>
    </g>
    <g id="xtick_11">
     <g id="line2d_35">
      <g>
       <use href="#md6672ee7ac" x="482.46" y="241.6" style="stroke: #000000; stroke-width: 0.8"/>
      </g>
     </g>
     <g id="text_26">
      <text style="font-size: 8.320px; font-family: 'Liberation Sans', sans-serif; text-anchor: middle; stroke: #000000; stroke-width: 0.2px; stroke-linejoin: round" textLength="12.723" lengthAdjust="spacingAndGlyphs" x="482.46" y="251.77875" transform="rotate(-0 482.46 251.77875)">0.8</text>
     </g>
    </g>
    <g id="xtick_12">
     <g id="line2d_36">
      <g>
       <use href="#md6672ee7ac" x="525.5" y="241.6" style="stroke: #000000; stroke-width: 0.8"/>
      </g>
     </g>
     <g id="text_27">
      <text style="font-size: 8.320px; font-family: 'Liberation Sans', sans-serif; text-anchor: middle; stroke: #000000; stroke-width: 0.2px; stroke-linejoin: round" textLength="12.723" lengthAdjust="spacingAndGlyphs" x="525.5" y="251.77875" transform="rotate(-0 525.5 251.77875)">1.0</text>
     </g>
    </g>
   </g>
   <g id="matplotlib.axis_10">
    <g id="ytick_16">
     <g id="line2d_37">
      <defs>
       <path id="mda3ab898f9" d="M 0 0 
L -2.6 0 
" style="stroke: #000000; stroke-width: 0.8"/>
      </defs>
      <g>
       <use href="#mda3ab898f9" x="302.8" y="231.7" style="stroke: #000000; stroke-width: 0.8"/>
      </g>
     </g>
     <g id="text_28">
      <text style="font-size: 8.320px; font-family: 'Liberation Sans', sans-serif; text-anchor: end; stroke: #000000; stroke-width: 0.2px; stroke-linejoin: round" textLength="12.723" lengthAdjust="spacingAndGlyphs" x="297.8" y="234.739375" transform="rotate(-0 297.8 234.739375)">0.0</text>
     </g>
    </g>
    <g id="ytick_17">
     <g id="line2d_38">
      <g>
       <use href="#mda3ab898f9" x="302.8" y="200.42" style="stroke: #000000; stroke-width: 0.8"/>
      </g>
     </g>
     <g id="text_29">
      <text style="font-size: 8.320px; font-family: 'Liberation Sans', sans-serif; text-anchor: end; stroke: #000000; stroke-width: 0.2px; stroke-linejoin: round" textLength="12.723" lengthAdjust="spacingAndGlyphs" x="297.8" y="203.459375" transform="rotate(-0 297.8 203.459375)">0.2</text>
     </g>
    </g>
    <g id="ytick_18">
     <g id="line2d_39">
      <g>
       <use href="#mda3ab898f9" x="302.8" y="169.14" style="stroke: #000000; stroke-width: 0.8"/>
      </g>
     </g>
     <g id="text_30">
      <text style="font-size: 8.320px; font-family: 'Liberation Sans', sans-serif; text-anchor: end; stroke: #000000; stroke-width: 0.2px; stroke-linejoin: round" textLength="12.723" lengthAdjust="spacingAndGlyphs" x="297.8" y="172.179375" transform="rotate(-0 297.8 172.179375)">0.4</text>
     </g>
    </g>
    <g id="ytick_19">
     <g id="line2d_40">
      <g>
       <use href="#mda3ab898f9" x="302.8" y="137.86" style="stroke: #000000; stroke-width: 0.8"/>
      </g>
     </g>
     <g id="text_31">
      <text style="font-size: 8.320px; font-family: 'Liberation Sans', sans-serif; text-anchor: end; stroke: #000000; stroke-width: 0.2px; stroke-linejoin: round" textLength="12.723" lengthAdjust="spacingAndGlyphs" x="297.8" y="140.899375" transform="rotate(-0 297.8 140.899375)">0.6</text>
     </g>
    </g>
    <g id="ytick_20">
     <g id="line2d_41">
      <g>
       <use href="#mda3ab898f9" x="302.8" y="106.58" style="stroke: #000000; stroke-width: 0.8"/>
      </g>
     </g>
     <g id="text_32">
      <text style="font-size: 8.320px; font-family: 'Liberation Sans', sans-serif; text-anchor: end; stroke: #000000; stroke-width: 0.2px; stroke-linejoin: round" textLength="12.723" lengthAdjust="spacingAndGlyphs" x="297.8" y="109.619375" transform="rotate(-0 297.8 109.619375)">0.8</text>
     </g>
    </g>
    <g id="ytick_21">
     <g id="line2d_42">
      <g>
       <use href="#mda3ab898f9" x="302.8" y="75.3" style="stroke: #000000; stroke-width: 0.8"/>
      </g>
     </g>
     <g id="text_33">
      <text style="font-size: 8.320px; font-family: 'Liberation Sans', sans-serif; text-anchor: end; stroke: #000000; stroke-width: 0.2px; stroke-linejoin: round" textLength="12.723" lengthAdjust="spacingAndGlyphs" x="297.8" y="78.339375" transform="rotate(-0 297.8 78.339375)">1.0</text>
     </g>
    </g>
    <g id="ytick_22">
     <g id="line2d_43">
      <g>
       <use href="#mda3ab898f9" x="302.8" y="44.02" style="stroke: #000000; stroke-width: 0.8"/>
      </g>
     </g>
     <g id="text_34">
      <text style="font-size: 8.320px; font-family: 'Liberation Sans', sans-serif; text-anchor: end; stroke: #000000; stroke-width: 0.2px; stroke-linejoin: round" textLength="12.723" lengthAdjust="spacingAndGlyphs" x="297.8" y="47.059375" transform="rotate(-0 297.8 47.059375)">1.2</text>
     </g>
    </g>
   </g>
   <g id="line2d_44">
    <path d="M 312.7 66 
L 319.912963 61.225694 
L 321.4 60.5 
L 324.011111 59.659259 
L 325.2625 59.425 
L 327.740278 59.300926 
L 330.264815 59.55463 
L 332.775 60.075 
L 334.048148 60.562963 
L 335.351852 61.284259 
L 336.7 62.3 
L 338.153935 63.735417 
L 339.714815 65.566667 
L 342.851852 69.766667 
L 346.487963 75.128935 
L 347.975 77.83125 
L 349.9 81.6 
L 354.906713 90.397917 
L 358.874074 98.622222 
L 362.085185 104.688657 
L 364.9 110.5 
L 366.140741 112.444444 
L 368.276157 115.559028 
L 370.273843 119.050463 
L 375.513657 128.991204 
L 378.343519 133.742361 
L 381.45 138.49375 
L 385.7 144.6 
L 388.5125 148.34375 
L 390.105093 150.121991 
L 391.97662 151.849537 
L 394.01875 153.3125 
L 397.2 155.5 
L 401.266667 158.651852 
L 403.8 160.9 
L 407.233333 164.355556 
L 413.01875 170.320139 
L 414.7 171.9 
L 417.548148 174.144444 
L 422.4 177.4 
L 425.71875 180.16875 
L 428.9 182.8 
L 432.19375 185.0625 
L 438.79375 189.4125 
L 447.566435 195.154398 
L 450.133102 196.402083 
L 454.518519 198.033333 
L 463.533333 201.3 
L 467.515278 202.938426 
L 470.711111 204.525926 
L 473.894213 206.344907 
L 477.196296 208.440741 
L 480.525463 210.859954 
L 483.962963 213.703704 
L 486.835185 216.294676 
L 490.4 219.9 
L 493.45 222.26875 
L 495.77037 223.80625 
L 498.293519 225.135648 
L 501.075 226.2875 
L 505.4 227.8 
L 509.69375 229.125 
L 514 230.2 
L 517.155556 230.762963 
L 522.5 231.5 
L 522.5 231.5 
" clip-path="url(#p0b0e7a64f3)" style="fill: none; stroke-dasharray: 3.7,5.3,1.7,5.3; stroke-dashoffset: 0; stroke: #0000ff; stroke-width: 1.7"/>
   </g>
   <g id="line2d_45">
    <path d="M 312.7 201.9 
L 313.327315 201.69838 
L 314.174074 201.414815 
L 315.1875 201.08125 
L 316.314815 200.72963 
L 317.503241 200.391898 
L 318.7 200.1 
L 319.970602 199.841667 
L 321.37037 199.588889 
L 322.83125 199.35 
L 324.285185 199.133333 
L 325.66412 198.947222 
L 326.9 198.8 
L 327.941667 198.690278 
L 328.833333 198.611111 
L 329.65 198.5625 
L 330.466667 198.544444 
L 331.358333 198.556944 
L 332.4 198.6 
L 333.6 198.668981 
L 334.9 198.762963 
L 336.275 198.8875 
L 337.7 199.048148 
L 339.15 199.250463 
L 340.6 199.5 
L 342.021759 199.792361 
L 343.42963 200.122222 
L 344.8625 200.49375 
L 346.359259 200.911111 
L 347.958796 201.378472 
L 349.7 201.9 
L 351.666667 202.51088 
L 353.844444 203.214815 
L 356.125 203.96875 
L 358.4 204.72963 
L 360.561111 205.454398 
L 362.5 206.1 
L 364.157176 206.662037 
L 365.607407 207.174074 
L 366.94375 207.65 
L 368.259259 208.103704 
L 369.646991 208.549074 
L 371.2 209 
L 372.934028 209.463426 
L 374.777778 209.92963 
L 376.69375 210.3875 
L 378.644444 210.825926 
L 380.592361 211.233796 
L 382.5 211.6 
L 384.372454 211.924074 
L 386.240741 212.214815 
L 388.10625 212.475 
L 389.97037 212.707407 
L 391.834491 212.914815 
L 393.7 213.1 
L 395.565509 213.255556 
L 397.42963 213.377778 
L 399.29375 213.475 
L 401.159259 213.555556 
L 403.027546 213.627778 
L 404.9 213.7 
L 406.778704 213.766204 
L 408.662963 213.818519 
L 410.55 213.8625 
L 412.437037 213.903704 
L 414.321296 213.947685 
L 416.2 214 
L 418.071296 214.058565 
L 419.937037 214.118519 
L 421.8 214.18125 
L 423.662963 214.248148 
L 425.528704 214.320602 
L 427.4 214.4 
L 429.241667 214.476852 
L 431.044444 214.548148 
L 432.85 214.625 
L 434.7 214.718519 
L 436.636111 214.839815 
L 438.7 215 
L 440.934491 215.214583 
L 443.314815 215.477778 
L 445.78125 215.76875 
L 448.274074 216.066667 
L 450.733565 216.350694 
L 453.1 216.6 
L 455.396065 216.812269 
L 457.674074 217.003704 
L 459.91875 217.18125 
L 462.114815 217.351852 
L 464.246991 217.522454 
L 466.3 217.7 
L 468.274074 217.870602 
L 470.181481 218.025926 
L 472.025 218.18125 
L 473.807407 218.351852 
L 475.531481 218.553009 
L 477.2 218.8 
L 478.813657 219.103009 
L 480.37037 219.451852 
L 481.86875 219.83125 
L 483.307407 220.225926 
L 484.684954 220.620602 
L 486 221 
L 487.181019 221.349306 
L 488.214815 221.677778 
L 489.1875 222.00625 
L 490.185185 222.355556 
L 491.293981 222.746528 
L 492.6 223.2 
L 494.121296 223.731019 
L 495.792593 224.325926 
L 497.575 224.9625 
L 499.42963 225.618519 
L 501.317593 226.271759 
L 503.2 226.9 
L 505.146991 227.532407 
L 507.203704 228.192593 
L 509.29375 228.85 
L 511.340741 229.474074 
L 513.268287 230.034259 
L 515 230.5 
L 516.585648 230.864815 
L 518.096296 231.151852 
L 519.4875 231.375 
L 520.714815 231.548148 
L 521.733796 231.685185 
L 522.5 231.8 
" clip-path="url(#p0b0e7a64f3)" style="fill: none; stroke-dasharray: 5.9,5.2; stroke-dashoffset: 0; stroke: #0000ff; stroke-width: 1.7"/>
   </g>
   <g id="line2d_46">
    <path d="M 312.7 35.8 
L 317.068056 32.132176 
L 319.143287 30.734491 
L 321.39375 29.43125 
L 323.649769 28.322454 
L 325.693056 27.576389 
L 327.5875 27.1625 
L 329.359722 27.004167 
L 330.985417 27.035185 
L 332.40625 27.25 
L 333.821528 27.731481 
L 336.322222 29.011111 
L 338.155556 30.233333 
L 339.082639 31.034028 
L 340 32 
L 341.825926 34.451852 
L 343.662963 37.448148 
L 345.5 40.8 
L 347.292593 44.481481 
L 353.185185 57.451852 
L 357.6 67 
L 359.91875 72.6 
L 363.526852 81.995833 
L 367.485185 92.8 
L 368.89537 96.368056 
L 370.3 99.6 
L 371.765509 102.582176 
L 374.91875 108.24375 
L 379.1 115 
L 380.896296 117.52963 
L 383.5 120.5 
L 385.71875 123.81875 
L 388.933333 128.633333 
L 390.497917 130.708333 
L 392.485185 132.833333 
L 394.753935 134.889583 
L 396.246065 136.06088 
L 399.230324 137.971065 
L 403.2 140.6 
L 404.588889 142.011111 
L 407.6 145.5 
L 410.559259 149.27037 
L 413.1125 152.76875 
L 414.115278 153.966435 
L 416.19537 155.808565 
L 428.811111 165.866667 
L 435.571528 171.566667 
L 439.99537 174.902083 
L 444.4 177.90625 
L 451 182.1 
L 455.566667 184.807407 
L 464.1 189.7 
L 468.49375 192.54375 
L 474.181481 196.577778 
L 479.711111 200.840741 
L 482.9 203.5 
L 486.237037 206.618519 
L 488.722454 209.175 
L 493.615509 214.735648 
L 497.7 219.4 
L 501.037037 222.818519 
L 502.7 224.3 
L 504.340741 225.537037 
L 506.784491 227.055787 
L 509.17037 228.281481 
L 511.584954 229.221065 
L 513.538657 229.766435 
L 517.074074 230.451852 
L 522.5 231.3 
L 522.5 231.3 
" clip-path="url(#p0b0e7a64f3)" style="fill: none; stroke: #0000ff; stroke-width: 1.7; stroke-linecap: square"/>
   </g>
   <g id="line2d_47">
    <path d="M 312.7 97.6 
L 325.225926 95.711111 
L 327.718519 95.255556 
L 330.2 95.1 
L 332.777778 95.3 
L 335.344444 95.8 
L 336.592361 96.19375 
L 337.8 96.7 
L 338.970602 97.344444 
L 341.23125 99 
L 343.375231 100.922222 
L 345.380324 102.894907 
L 347.21875 105.0125 
L 354.523843 113.86713 
L 358.233333 118.122222 
L 363.222222 123.540741 
L 368.630556 129.426157 
L 370.3 131.4 
L 373.333333 135.525926 
L 377.654167 141.732176 
L 379.1 143.5 
L 380.534954 145.013194 
L 383.34375 147.50625 
L 389.466667 152.523843 
L 396.633333 158.552546 
L 401.37037 162.288889 
L 407 166.4 
L 412.251852 170 
L 414.7 171.5 
L 416.985185 172.685185 
L 434.4 180.7 
L 437.933333 182.677778 
L 441.282639 184.446065 
L 464.837963 196.103009 
L 467.780093 197.754167 
L 472.259259 200.533333 
L 476.234259 203.30463 
L 479.559259 205.996296 
L 482.56875 208.71088 
L 488.12662 214.225926 
L 492.51088 217.92963 
L 497.625926 221.977778 
L 500 223.5 
L 502.874074 225.051852 
L 506.114815 226.581481 
L 509.7 228 
L 514.211111 229.37037 
L 522.5 231.5 
L 522.5 231.5 
" clip-path="url(#p0b0e7a64f3)" style="fill: none; stroke-dasharray: 3.7,5.3,1.7,5.3; stroke-dashoffset: 0; stroke: #daa520; stroke-width: 1.7"/>
   </g>
   <g id="line2d_48">
    <path d="M 312.7 190.6 
L 313.358565 190.799306 
L 314.274074 191.077778 
L 315.35625 191.40625 
L 316.514815 191.755556 
L 317.659491 192.096528 
L 318.7 192.4 
L 319.646759 192.683565 
L 320.574074 192.974074 
L 321.4875 193.25625 
L 322.392593 193.514815 
L 323.294907 193.734491 
L 324.2 193.9 
L 325.07338 194 
L 325.903704 194.044444 
L 326.73125 194.05 
L 327.596296 194.033333 
L 328.53912 194.011111 
L 329.6 194 
L 330.761806 193.970602 
L 331.988889 193.903704 
L 333.29375 193.83125 
L 334.688889 193.785185 
L 336.186806 193.797454 
L 337.8 193.9 
L 339.558796 194.096759 
L 341.459259 194.362963 
L 343.4625 194.6875 
L 345.52963 195.059259 
L 347.621759 195.46713 
L 349.7 195.9 
L 351.828704 196.371296 
L 354.051852 196.892593 
L 356.3 197.45 
L 358.503704 198.02963 
L 360.593519 198.617593 
L 362.5 199.2 
L 364.157176 199.781481 
L 365.607407 200.374074 
L 366.94375 200.975 
L 368.259259 201.581481 
L 369.646991 202.190741 
L 371.2 202.8 
L 372.934028 203.431713 
L 374.777778 204.092593 
L 376.69375 204.75625 
L 378.644444 205.396296 
L 380.592361 205.986343 
L 382.5 206.5 
L 384.372454 206.932407 
L 386.240741 207.303704 
L 388.10625 207.625 
L 389.97037 207.907407 
L 391.834491 208.162037 
L 393.7 208.4 
L 395.565509 208.602083 
L 397.42963 208.755556 
L 399.29375 208.88125 
L 401.159259 209 
L 403.027546 209.132639 
L 404.9 209.3 
L 406.778704 209.50787 
L 408.662963 209.740741 
L 410.55 209.9875 
L 412.437037 210.237037 
L 414.321296 210.478241 
L 416.2 210.7 
L 418.071296 210.89838 
L 419.937037 211.081481 
L 421.8 211.25625 
L 423.662963 211.42963 
L 425.528704 211.608565 
L 427.4 211.8 
L 429.241667 212.005093 
L 431.044444 212.218519 
L 432.85 212.4375 
L 434.7 212.659259 
L 436.636111 212.881019 
L 438.7 213.1 
L 440.934491 213.30625 
L 443.314815 213.5 
L 445.78125 213.69375 
L 448.274074 213.9 
L 450.733565 214.13125 
L 453.1 214.4 
L 455.396065 214.727315 
L 457.674074 215.107407 
L 459.91875 215.5125 
L 462.114815 215.914815 
L 464.246991 216.286574 
L 466.3 216.6 
L 468.274074 216.834259 
L 470.181481 217.007407 
L 472.025 217.15 
L 473.807407 217.292593 
L 475.531481 217.465741 
L 477.2 217.7 
L 478.813657 218.003009 
L 480.37037 218.351852 
L 481.86875 218.73125 
L 483.307407 219.125926 
L 484.684954 219.520602 
L 486 219.9 
L 487.155556 220.230787 
L 488.133333 220.518519 
L 489.05 220.80625 
L 490.022222 221.137037 
L 491.166667 221.553935 
L 492.6 222.1 
L 494.411574 222.835185 
L 496.525926 223.737037 
L 498.8125 224.725 
L 501.140741 225.718519 
L 503.380093 226.637037 
L 505.4 227.4 
L 507.209491 228.002315 
L 508.914815 228.507407 
L 510.53125 228.9375 
L 512.074074 229.314815 
L 513.558565 229.661574 
L 515 230 
L 516.458333 230.331019 
L 517.933333 230.637037 
L 519.35 230.9125 
L 520.633333 231.151852 
L 521.708333 231.349537 
L 522.5 231.5 
" clip-path="url(#p0b0e7a64f3)" style="fill: none; stroke-dasharray: 5.9,5.2; stroke-dashoffset: 0; stroke: #daa520; stroke-width: 1.7"/>
   </g>
   <g id="line2d_49">
    <path d="M 312.7 56.6 
L 320.3 57.7 
L 324.737037 58.088889 
L 326.9 58.1 
L 329.185185 57.814815 
L 332.533102 57.237731 
L 334.33588 57.243056 
L 335.71875 57.4625 
L 337.040509 58.026389 
L 338.647222 59.124074 
L 340.475 60.75 
L 342.369444 62.731481 
L 344.224769 64.945602 
L 347.018519 68.851852 
L 349.578009 72.712269 
L 352.495602 77.533565 
L 355.017593 80.954398 
L 365.203241 93.811574 
L 380.2 115 
L 382.75 118.23125 
L 385.188889 121.295139 
L 389.925 127.85 
L 392.2 130.6 
L 393.666667 132.003704 
L 395.866667 133.75162 
L 398.6625 135.7125 
L 406.428241 140.709259 
L 411.51875 144.26875 
L 416.921296 148.272222 
L 422.407407 152.681481 
L 428.081481 157.240741 
L 433.5 161.3 
L 435.867361 162.838657 
L 440.46875 165.44375 
L 444.697917 167.743287 
L 448.303472 170.054398 
L 451.21875 172.24375 
L 459.7 178.9125 
L 467.137037 184.874074 
L 475.6375 192.025 
L 478 194.2 
L 481.27037 197.57037 
L 484.562963 201.377778 
L 488.722454 206.686111 
L 493.615509 213.22338 
L 496.877546 217.094676 
L 500.2 220.60625 
L 502.7 222.9 
L 504.340741 224.148148 
L 506.784491 225.714815 
L 510.04375 227.575 
L 512.5 228.7 
L 514.162963 229.237037 
L 517.5 230 
L 521.868056 230.806713 
L 522.4 230.9 
L 522.4 230.9 
" clip-path="url(#p0b0e7a64f3)" style="fill: none; stroke: #daa520; stroke-width: 1.7; stroke-linecap: square"/>
   </g>
   <g id="patch_23">
    <path d="M 302.8 241.6 
L 302.8 16.5 
" style="fill: none; stroke: #000000; stroke-width: 0.8; stroke-linejoin: miter; stroke-linecap: square"/>
   </g>
   <g id="patch_24">
    <path d="M 533.3 241.6 
L 533.3 16.5 
" style="fill: none; stroke: #000000; stroke-width: 0.8; stroke-linejoin: miter; stroke-linecap: square"/>
   </g>
   <g id="patch_25">
    <path d="M 302.8 241.6 
L 533.3 241.6 
" style="fill: none; stroke: #000000; stroke-width: 0.8; stroke-linejoin: miter; stroke-linecap: square"/>
   </g>
   <g id="patch_26">
    <path d="M 302.8 16.5 
L 533.3 16.5 
" style="fill: none; stroke: #000000; stroke-width: 0.8; stroke-linejoin: miter; stroke-linecap: square"/>
   </g>
   <g id="legend_1">
    <g id="patch_27">
     <path d="M 431.1 58.7075 
L 527.7175 58.7075 
Q 529.3175 58.7075 529.3175 57.1075 
L 529.3175 22.2 
Q 529.3175 20.6 527.7175 20.6 
L 431.1 20.6 
Q 429.5 20.6 429.5 22.2 
L 429.5 57.1075 
Q 429.5 58.7075 431.1 58.7075 
z
" style="fill: #ffffff; opacity: 0.8; stroke: #cccccc; stroke-linejoin: miter"/>
    </g>
    <g id="line2d_50">
     <path d="M 432.7 27.07875 
L 440.7 27.07875 
L 448.7 27.07875 
" style="fill: none; stroke-dasharray: 3.7,5.3,1.7,5.3; stroke-dashoffset: 0; stroke: #0000ff; stroke-width: 1.7"/>
    </g>
    <g id="text_35">
     <text style="font-size: 8.320px; font-family: 'Liberation Sans', sans-serif; text-anchor: start; stroke: #000000; stroke-width: 0.2px; stroke-linejoin: round" textLength="50.129" lengthAdjust="spacingAndGlyphs" x="455.5" y="29.87875" transform="rotate(-0 455.5 29.87875)">ions=8.806s</text>
    </g>
    <g id="line2d_51">
     <path d="M 432.7 39.06125 
L 440.7 39.06125 
L 448.7 39.06125 
" style="fill: none; stroke-dasharray: 5.9,5.2; stroke-dashoffset: 0; stroke: #0000ff; stroke-width: 1.7"/>
    </g>
    <g id="text_36">
     <text style="font-size: 8.320px; font-family: 'Liberation Sans', sans-serif; text-anchor: start; stroke: #000000; stroke-width: 0.2px; stroke-linejoin: round" textLength="70.621" lengthAdjust="spacingAndGlyphs" x="455.5" y="41.86125" transform="rotate(-0 455.5 41.86125)">electrons=8.806s</text>
    </g>
    <g id="line2d_52">
     <path d="M 432.7 51.04375 
L 440.7 51.04375 
L 448.7 51.04375 
" style="fill: none; stroke: #0000ff; stroke-width: 1.7; stroke-linecap: square"/>
    </g>
    <g id="text_37">
     <text style="font-size: 8.320px; font-family: 'Liberation Sans', sans-serif; text-anchor: start; stroke: #000000; stroke-width: 0.2px; stroke-linejoin: round" textLength="52.067" lengthAdjust="spacingAndGlyphs" x="455.5" y="53.84375" transform="rotate(-0 455.5 53.84375)">total=8.806s</text>
    </g>
   </g>
  </g>
  <g id="text_38">
   <text style="font-size: 7.696px; font-family: 'Liberation Sans', sans-serif; text-anchor: start; fill: #1c1c1c; stroke: #1c1c1c; stroke-width: 0.15px; stroke-linejoin: round" textLength="191.646" lengthAdjust="spacingAndGlyphs" x="28.3" y="4.7" transform="rotate(-0 28.3 4.7)">#100822,blue (D) / #99950,gold (DT), 2.3MA/3.45T</text>
  </g>
  <g id="text_39">
   <text style="font-size: 8.320px; font-family: 'Liberation Sans', sans-serif; text-anchor: start; fill: #1c1c1c; stroke: #1c1c1c; stroke-width: 0.15px; stroke-linejoin: round" textLength="8.024" lengthAdjust="spacingAndGlyphs" x="28.9" y="20.6" transform="rotate(-0 28.9 20.6)">a)</text>
  </g>
  <g id="text_40">
   <text style="font-size: 7.696px; font-family: 'Liberation Sans', sans-serif; text-anchor: middle; fill: #1c1c1c; stroke: #1c1c1c; stroke-width: 0.15px; stroke-linejoin: round" textLength="30.092" lengthAdjust="spacingAndGlyphs" x="123.3" y="272" transform="rotate(-0 123.3 272)">Time (s)</text>
  </g>
  <g id="text_41">
   
   <g style="fill: #1c1c1c" transform="translate(5.041937 55.988) rotate(-90)">
    <text>
     <tspan x="0" y="-0.6875" style="font-style: italic; font-size: 7.696px; font-family: 'Liberation Sans', sans-serif; fill: #1c1c1c; stroke: #1c1c1c; stroke-width: 0.15px; stroke-linejoin: round" textLength="4.462" lengthAdjust="spacingAndGlyphs">P</tspan>
     <tspan x="4.447327" y="0.460938" style="font-style: italic; font-size: 5.387px; font-family: 'Liberation Sans', sans-serif; fill: #1c1c1c; stroke: #1c1c1c; stroke-width: 0.075px; stroke-linejoin: round" textLength="2.031" lengthAdjust="spacingAndGlyphs">t</tspan>
     <tspan x="6.47149" y="0.460938" style="font-style: italic; font-size: 5.387px; font-family: 'Liberation Sans', sans-serif; fill: #1c1c1c; stroke: #1c1c1c; stroke-width: 0.075px; stroke-linejoin: round" textLength="3.169" lengthAdjust="spacingAndGlyphs">o</tspan>
     <tspan x="9.629993" y="0.460938" style="font-style: italic; font-size: 5.387px; font-family: 'Liberation Sans', sans-serif; fill: #1c1c1c; stroke: #1c1c1c; stroke-width: 0.075px; stroke-linejoin: round" textLength="2.031" lengthAdjust="spacingAndGlyphs">t</tspan>
     <tspan x="11.845563" y="-0.6875" style="font-size: 7.696px; font-family: 'Liberation Sans', sans-serif; fill: #1c1c1c; stroke: #1c1c1c; stroke-width: 0.15px; stroke-linejoin: round" textLength="2.887" lengthAdjust="spacingAndGlyphs">(</tspan>
     <tspan x="14.722821" y="-0.6875" style="font-size: 7.696px; font-family: 'Liberation Sans', sans-serif; fill: #1c1c1c; stroke: #1c1c1c; stroke-width: 0.15px; stroke-linejoin: round" textLength="6.385" lengthAdjust="spacingAndGlyphs">M</tspan>
     <tspan x="21.085919" y="-0.6875" style="font-size: 7.696px; font-family: 'Liberation Sans', sans-serif; fill: #1c1c1c; stroke: #1c1c1c; stroke-width: 0.15px; stroke-linejoin: round" textLength="7.317" lengthAdjust="spacingAndGlyphs">W</tspan>
     <tspan x="28.378094" y="-0.6875" style="font-size: 7.696px; font-family: 'Liberation Sans', sans-serif; fill: #1c1c1c; stroke: #1c1c1c; stroke-width: 0.15px; stroke-linejoin: round" textLength="2.887" lengthAdjust="spacingAndGlyphs">)</tspan>
    </text>
   </g>
  </g>
  <g id="text_42">
   
   <g style="fill: #1c1c1c" transform="translate(5.041937 117.691) rotate(-90)">
    <text>
     <tspan x="0" y="-0.6875" style="font-style: italic; font-size: 7.696px; font-family: 'Liberation Sans', sans-serif; fill: #1c1c1c; stroke: #1c1c1c; stroke-width: 0.15px; stroke-linejoin: round" textLength="4.462" lengthAdjust="spacingAndGlyphs">P</tspan>
     <tspan x="4.447327" y="0.460938" style="font-style: italic; font-size: 5.387px; font-family: 'Liberation Sans', sans-serif; fill: #1c1c1c; stroke: #1c1c1c; stroke-width: 0.075px; stroke-linejoin: round" textLength="2.130" lengthAdjust="spacingAndGlyphs">r</tspan>
     <tspan x="6.5698" y="0.460938" style="font-style: italic; font-size: 5.387px; font-family: 'Liberation Sans', sans-serif; fill: #1c1c1c; stroke: #1c1c1c; stroke-width: 0.075px; stroke-linejoin: round" textLength="3.174" lengthAdjust="spacingAndGlyphs">a</tspan>
     <tspan x="9.733344" y="0.460938" style="font-style: italic; font-size: 5.387px; font-family: 'Liberation Sans', sans-serif; fill: #1c1c1c; stroke: #1c1c1c; stroke-width: 0.075px; stroke-linejoin: round" textLength="3.288" lengthAdjust="spacingAndGlyphs">d</tspan>
     <tspan x="13.201727" y="-0.6875" style="font-size: 7.696px; font-family: 'Liberation Sans', sans-serif; fill: #1c1c1c; stroke: #1c1c1c; stroke-width: 0.15px; stroke-linejoin: round" textLength="2.887" lengthAdjust="spacingAndGlyphs">(</tspan>
     <tspan x="16.078986" y="-0.6875" style="font-size: 7.696px; font-family: 'Liberation Sans', sans-serif; fill: #1c1c1c; stroke: #1c1c1c; stroke-width: 0.15px; stroke-linejoin: round" textLength="6.385" lengthAdjust="spacingAndGlyphs">M</tspan>
     <tspan x="22.442084" y="-0.6875" style="font-size: 7.696px; font-family: 'Liberation Sans', sans-serif; fill: #1c1c1c; stroke: #1c1c1c; stroke-width: 0.15px; stroke-linejoin: round" textLength="7.317" lengthAdjust="spacingAndGlyphs">W</tspan>
     <tspan x="29.734259" y="-0.6875" style="font-size: 7.696px; font-family: 'Liberation Sans', sans-serif; fill: #1c1c1c; stroke: #1c1c1c; stroke-width: 0.15px; stroke-linejoin: round" textLength="2.887" lengthAdjust="spacingAndGlyphs">)</tspan>
    </text>
   </g>
  </g>
  <g id="text_43">
   
   <g style="fill: #1c1c1c" transform="translate(8.494031 183.079) rotate(-90)">
    <text>
     <tspan x="0" y="-0.678125" style="font-size: 7.696px; font-family: 'Liberation Sans', sans-serif; fill: #1c1c1c; stroke: #1c1c1c; stroke-width: 0.15px; stroke-linejoin: round" textLength="4.123" lengthAdjust="spacingAndGlyphs">Γ</tspan>
     <tspan x="7.770239" y="-0.678125" style="font-size: 7.696px; font-family: 'Liberation Sans', sans-serif; fill: #1c1c1c; stroke: #1c1c1c; stroke-width: 0.15px; stroke-linejoin: round" textLength="2.887" lengthAdjust="spacingAndGlyphs">(</tspan>
     <tspan x="10.647498" y="-0.678125" style="font-size: 7.696px; font-family: 'Liberation Sans', sans-serif; fill: #1c1c1c; stroke: #1c1c1c; stroke-width: 0.15px; stroke-linejoin: round" textLength="4.708" lengthAdjust="spacingAndGlyphs">1</tspan>
     <tspan x="15.339697" y="-0.678125" style="font-size: 7.696px; font-family: 'Liberation Sans', sans-serif; fill: #1c1c1c; stroke: #1c1c1c; stroke-width: 0.15px; stroke-linejoin: round" textLength="4.708" lengthAdjust="spacingAndGlyphs">0</tspan>
     <tspan x="38.829033" y="-0.678125" style="font-size: 7.696px; font-family: 'Liberation Sans', sans-serif; fill: #1c1c1c; stroke: #1c1c1c; stroke-width: 0.15px; stroke-linejoin: round" textLength="2.887" lengthAdjust="spacingAndGlyphs">)</tspan>
     <tspan x="4.175818" y="0.470313" style="font-style: italic; font-size: 5.387px; font-family: 'Liberation Sans', sans-serif; fill: #1c1c1c; stroke: #1c1c1c; stroke-width: 0.075px; stroke-linejoin: round" textLength="3.415" lengthAdjust="spacingAndGlyphs">α</tspan>
     <tspan x="20.098889" y="-3.357812" style="font-size: 5.387px; font-family: 'Liberation Sans', sans-serif; fill: #1c1c1c; stroke: #1c1c1c; stroke-width: 0.075px; stroke-linejoin: round" textLength="3.296" lengthAdjust="spacingAndGlyphs">2</tspan>
     <tspan x="23.383429" y="-3.357812" style="font-size: 5.387px; font-family: 'Liberation Sans', sans-serif; fill: #1c1c1c; stroke: #1c1c1c; stroke-width: 0.075px; stroke-linejoin: round" textLength="3.296" lengthAdjust="spacingAndGlyphs">2</tspan>
     <tspan x="31.027476" y="-3.357812" style="font-size: 5.387px; font-family: 'Liberation Sans', sans-serif; fill: #1c1c1c; stroke: #1c1c1c; stroke-width: 0.075px; stroke-linejoin: round" textLength="4.340" lengthAdjust="spacingAndGlyphs">−</tspan>
     <tspan x="35.353087" y="-3.357812" style="font-size: 5.387px; font-family: 'Liberation Sans', sans-serif; fill: #1c1c1c; stroke: #1c1c1c; stroke-width: 0.075px; stroke-linejoin: round" textLength="3.296" lengthAdjust="spacingAndGlyphs">1</tspan>
     <tspan x="26.859375" y="-0.678125" style="font-style: italic; font-size: 7.696px; font-family: 'Liberation Sans', sans-serif; fill: #1c1c1c; stroke: #1c1c1c; stroke-width: 0.15px; stroke-linejoin: round" textLength="3.855" lengthAdjust="spacingAndGlyphs">s</tspan>
    </text>
   </g>
  </g>
  <g id="text_44">
   
   <g style="fill: #1c1c1c" transform="translate(6.335 238.911) rotate(-90)">
    <text>
     <tspan x="0" y="-0.6875" style="font-style: italic; font-size: 7.696px; font-family: 'Liberation Sans', sans-serif; fill: #1c1c1c; stroke: #1c1c1c; stroke-width: 0.15px; stroke-linejoin: round" textLength="7.317" lengthAdjust="spacingAndGlyphs">W</tspan>
     <tspan x="7.292175" y="0.460938" style="font-style: italic; font-size: 5.387px; font-family: 'Liberation Sans', sans-serif; fill: #1c1c1c; stroke: #1c1c1c; stroke-width: 0.075px; stroke-linejoin: round" textLength="3.288" lengthAdjust="spacingAndGlyphs">d</tspan>
     <tspan x="10.569153" y="0.460938" style="font-style: italic; font-size: 5.387px; font-family: 'Liberation Sans', sans-serif; fill: #1c1c1c; stroke: #1c1c1c; stroke-width: 0.075px; stroke-linejoin: round" textLength="1.439" lengthAdjust="spacingAndGlyphs">i</tspan>
     <tspan x="12.003461" y="0.460938" style="font-style: italic; font-size: 5.387px; font-family: 'Liberation Sans', sans-serif; fill: #1c1c1c; stroke: #1c1c1c; stroke-width: 0.075px; stroke-linejoin: round" textLength="3.174" lengthAdjust="spacingAndGlyphs">a</tspan>
     <tspan x="15.358411" y="-0.6875" style="font-size: 7.696px; font-family: 'Liberation Sans', sans-serif; fill: #1c1c1c; stroke: #1c1c1c; stroke-width: 0.15px; stroke-linejoin: round" textLength="2.887" lengthAdjust="spacingAndGlyphs">(</tspan>
     <tspan x="18.235669" y="-0.6875" style="font-size: 7.696px; font-family: 'Liberation Sans', sans-serif; fill: #1c1c1c; stroke: #1c1c1c; stroke-width: 0.15px; stroke-linejoin: round" textLength="6.385" lengthAdjust="spacingAndGlyphs">M</tspan>
     <tspan x="24.598767" y="-0.6875" style="font-size: 7.696px; font-family: 'Liberation Sans', sans-serif; fill: #1c1c1c; stroke: #1c1c1c; stroke-width: 0.15px; stroke-linejoin: round" textLength="2.182" lengthAdjust="spacingAndGlyphs">J</tspan>
     <tspan x="26.773816" y="-0.6875" style="font-size: 7.696px; font-family: 'Liberation Sans', sans-serif; fill: #1c1c1c; stroke: #1c1c1c; stroke-width: 0.15px; stroke-linejoin: round" textLength="2.887" lengthAdjust="spacingAndGlyphs">)</tspan>
    </text>
   </g>
  </g>
  <g id="text_45">
   <text style="font-size: 8.320px; font-family: 'Liberation Sans', sans-serif; text-anchor: start; stroke: #000000; stroke-width: 0.2px; stroke-linejoin: round" textLength="151.606" lengthAdjust="spacingAndGlyphs" x="342.1" y="13.5" transform="rotate(-0 342.1 13.5)">#99950,gold (DT) / #100822,blue (D)</text>
  </g>
  <g id="text_46">
   <text style="font-size: 8.944px; font-family: 'Liberation Sans', sans-serif; text-anchor: start; stroke: #000000; stroke-width: 0.2px; stroke-linejoin: round" textLength="8.814" lengthAdjust="spacingAndGlyphs" x="309.8" y="27.6" transform="rotate(-0 309.8 27.6)">b)</text>
  </g>
  <g id="text_47">
   
   <g transform="translate(411.36 261.79125)">
    <text>
     <tspan x="0" y="-0.515625" style="font-style: italic; font-size: 8.320px; font-family: 'Liberation Sans', sans-serif; stroke: #000000; stroke-width: 0.2px; stroke-linejoin: round" textLength="5.078" lengthAdjust="spacingAndGlyphs">ρ</tspan>
     <tspan x="5.078125" y="0.796875" style="font-style: italic; font-size: 5.824px; font-family: 'Liberation Sans', sans-serif; stroke: #000000; stroke-width: 0.1px; stroke-linejoin: round" textLength="2.196" lengthAdjust="spacingAndGlyphs">t</tspan>
     <tspan x="7.273828" y="0.796875" style="font-style: italic; font-size: 5.824px; font-family: 'Liberation Sans', sans-serif; stroke: #000000; stroke-width: 0.1px; stroke-linejoin: round" textLength="3.426" lengthAdjust="spacingAndGlyphs">o</tspan>
     <tspan x="10.7" y="0.796875" style="font-style: italic; font-size: 5.824px; font-family: 'Liberation Sans', sans-serif; stroke: #000000; stroke-width: 0.1px; stroke-linejoin: round" textLength="2.302" lengthAdjust="spacingAndGlyphs">r</tspan>
    </text>
   </g>
  </g>
  <g id="text_48">
   
   <g transform="translate(283.2 213.2) rotate(-90)">
    <text>
     <tspan x="0" y="-0.78125" style="font-size: 8.320px; font-family: 'Liberation Sans', sans-serif; stroke: #000000; stroke-width: 0.2px; stroke-linejoin: round" textLength="5.984" lengthAdjust="spacingAndGlyphs">N</tspan>
     <tspan x="5.984375" y="-0.78125" style="font-size: 8.320px; font-family: 'Liberation Sans', sans-serif; stroke: #000000; stroke-width: 0.2px; stroke-linejoin: round" textLength="5.488" lengthAdjust="spacingAndGlyphs">B</tspan>
     <tspan x="11.472656" y="-0.78125" style="font-size: 8.320px; font-family: 'Liberation Sans', sans-serif; stroke: #000000; stroke-width: 0.2px; stroke-linejoin: round" textLength="2.359" lengthAdjust="spacingAndGlyphs">I</tspan>
     <tspan x="13.832031" y="-0.78125" style="font-size: 8.320px; font-family: 'Liberation Sans', sans-serif; stroke: #000000; stroke-width: 0.2px; stroke-linejoin: round" textLength="2.543" lengthAdjust="spacingAndGlyphs"> </tspan>
     <tspan x="16.375" y="-0.78125" style="font-size: 8.320px; font-family: 'Liberation Sans', sans-serif; stroke: #000000; stroke-width: 0.2px; stroke-linejoin: round" textLength="6.703" lengthAdjust="spacingAndGlyphs">+</tspan>
     <tspan x="23.078125" y="-0.78125" style="font-size: 8.320px; font-family: 'Liberation Sans', sans-serif; stroke: #000000; stroke-width: 0.2px; stroke-linejoin: round" textLength="2.543" lengthAdjust="spacingAndGlyphs"> </tspan>
     <tspan x="30.894531" y="-0.78125" style="font-size: 8.320px; font-family: 'Liberation Sans', sans-serif; stroke: #000000; stroke-width: 0.2px; stroke-linejoin: round" textLength="2.543" lengthAdjust="spacingAndGlyphs"> </tspan>
     <tspan x="33.4375" y="-0.78125" style="font-size: 8.320px; font-family: 'Liberation Sans', sans-serif; stroke: #000000; stroke-width: 0.2px; stroke-linejoin: round" textLength="5.070" lengthAdjust="spacingAndGlyphs">h</tspan>
     <tspan x="38.507812" y="-0.78125" style="font-size: 8.320px; font-family: 'Liberation Sans', sans-serif; stroke: #000000; stroke-width: 0.2px; stroke-linejoin: round" textLength="4.922" lengthAdjust="spacingAndGlyphs">e</tspan>
     <tspan x="43.429688" y="-0.78125" style="font-size: 8.320px; font-family: 'Liberation Sans', sans-serif; stroke: #000000; stroke-width: 0.2px; stroke-linejoin: round" textLength="4.902" lengthAdjust="spacingAndGlyphs">a</tspan>
     <tspan x="48.332031" y="-0.78125" style="font-size: 8.320px; font-family: 'Liberation Sans', sans-serif; stroke: #000000; stroke-width: 0.2px; stroke-linejoin: round" textLength="3.137" lengthAdjust="spacingAndGlyphs">t</tspan>
     <tspan x="51.46875" y="-0.78125" style="font-size: 8.320px; font-family: 'Liberation Sans', sans-serif; stroke: #000000; stroke-width: 0.2px; stroke-linejoin: round" textLength="2.223" lengthAdjust="spacingAndGlyphs">i</tspan>
     <tspan x="53.691406" y="-0.78125" style="font-size: 8.320px; font-family: 'Liberation Sans', sans-serif; stroke: #000000; stroke-width: 0.2px; stroke-linejoin: round" textLength="5.070" lengthAdjust="spacingAndGlyphs">n</tspan>
     <tspan x="58.761719" y="-0.78125" style="font-size: 8.320px; font-family: 'Liberation Sans', sans-serif; stroke: #000000; stroke-width: 0.2px; stroke-linejoin: round" textLength="5.078" lengthAdjust="spacingAndGlyphs">g</tspan>
     <tspan x="63.839844" y="-0.78125" style="font-size: 8.320px; font-family: 'Liberation Sans', sans-serif; stroke: #000000; stroke-width: 0.2px; stroke-linejoin: round" textLength="2.543" lengthAdjust="spacingAndGlyphs"> </tspan>
     <tspan x="66.382812" y="-0.78125" style="font-size: 8.320px; font-family: 'Liberation Sans', sans-serif; stroke: #000000; stroke-width: 0.2px; stroke-linejoin: round" textLength="5.078" lengthAdjust="spacingAndGlyphs">p</tspan>
     <tspan x="71.460938" y="-0.78125" style="font-size: 8.320px; font-family: 'Liberation Sans', sans-serif; stroke: #000000; stroke-width: 0.2px; stroke-linejoin: round" textLength="4.894" lengthAdjust="spacingAndGlyphs">o</tspan>
     <tspan x="76.355469" y="-0.78125" style="font-size: 8.320px; font-family: 'Liberation Sans', sans-serif; stroke: #000000; stroke-width: 0.2px; stroke-linejoin: round" textLength="6.543" lengthAdjust="spacingAndGlyphs">w</tspan>
     <tspan x="82.898438" y="-0.78125" style="font-size: 8.320px; font-family: 'Liberation Sans', sans-serif; stroke: #000000; stroke-width: 0.2px; stroke-linejoin: round" textLength="4.922" lengthAdjust="spacingAndGlyphs">e</tspan>
     <tspan x="87.820312" y="-0.78125" style="font-size: 8.320px; font-family: 'Liberation Sans', sans-serif; stroke: #000000; stroke-width: 0.2px; stroke-linejoin: round" textLength="3.289" lengthAdjust="spacingAndGlyphs">r</tspan>
     <tspan x="91.109375" y="-0.78125" style="font-size: 8.320px; font-family: 'Liberation Sans', sans-serif; stroke: #000000; stroke-width: 0.2px; stroke-linejoin: round" textLength="2.543" lengthAdjust="spacingAndGlyphs"> </tspan>
     <tspan x="93.652344" y="-0.78125" style="font-size: 8.320px; font-family: 'Liberation Sans', sans-serif; stroke: #000000; stroke-width: 0.2px; stroke-linejoin: round" textLength="5.078" lengthAdjust="spacingAndGlyphs">d</tspan>
     <tspan x="98.730469" y="-0.78125" style="font-size: 8.320px; font-family: 'Liberation Sans', sans-serif; stroke: #000000; stroke-width: 0.2px; stroke-linejoin: round" textLength="4.922" lengthAdjust="spacingAndGlyphs">e</tspan>
     <tspan x="103.652344" y="-0.78125" style="font-size: 8.320px; font-family: 'Liberation Sans', sans-serif; stroke: #000000; stroke-width: 0.2px; stroke-linejoin: round" textLength="5.078" lengthAdjust="spacingAndGlyphs">p</tspan>
     <tspan x="108.730469" y="-0.78125" style="font-size: 8.320px; font-family: 'Liberation Sans', sans-serif; stroke: #000000; stroke-width: 0.2px; stroke-linejoin: round" textLength="4.894" lengthAdjust="spacingAndGlyphs">o</tspan>
     <tspan x="113.625" y="-0.78125" style="font-size: 8.320px; font-family: 'Liberation Sans', sans-serif; stroke: #000000; stroke-width: 0.2px; stroke-linejoin: round" textLength="4.168" lengthAdjust="spacingAndGlyphs">s</tspan>
     <tspan x="117.792969" y="-0.78125" style="font-size: 8.320px; font-family: 'Liberation Sans', sans-serif; stroke: #000000; stroke-width: 0.2px; stroke-linejoin: round" textLength="2.223" lengthAdjust="spacingAndGlyphs">i</tspan>
     <tspan x="120.015625" y="-0.78125" style="font-size: 8.320px; font-family: 'Liberation Sans', sans-serif; stroke: #000000; stroke-width: 0.2px; stroke-linejoin: round" textLength="3.137" lengthAdjust="spacingAndGlyphs">t</tspan>
     <tspan x="123.152344" y="-0.78125" style="font-size: 8.320px; font-family: 'Liberation Sans', sans-serif; stroke: #000000; stroke-width: 0.2px; stroke-linejoin: round" textLength="2.223" lengthAdjust="spacingAndGlyphs">i</tspan>
     <tspan x="125.375" y="-0.78125" style="font-size: 8.320px; font-family: 'Liberation Sans', sans-serif; stroke: #000000; stroke-width: 0.2px; stroke-linejoin: round" textLength="4.894" lengthAdjust="spacingAndGlyphs">o</tspan>
     <tspan x="130.269531" y="-0.78125" style="font-size: 8.320px; font-family: 'Liberation Sans', sans-serif; stroke: #000000; stroke-width: 0.2px; stroke-linejoin: round" textLength="5.070" lengthAdjust="spacingAndGlyphs">n</tspan>
     <tspan x="135.339844" y="-0.78125" style="font-size: 8.320px; font-family: 'Liberation Sans', sans-serif; stroke: #000000; stroke-width: 0.2px; stroke-linejoin: round" textLength="2.543" lengthAdjust="spacingAndGlyphs"> </tspan>
     <tspan x="137.882812" y="-0.78125" style="font-size: 8.320px; font-family: 'Liberation Sans', sans-serif; stroke: #000000; stroke-width: 0.2px; stroke-linejoin: round" textLength="3.121" lengthAdjust="spacingAndGlyphs">(</tspan>
     <tspan x="141.003906" y="-0.78125" style="font-size: 8.320px; font-family: 'Liberation Sans', sans-serif; stroke: #000000; stroke-width: 0.2px; stroke-linejoin: round" textLength="7.910" lengthAdjust="spacingAndGlyphs">W</tspan>
     <tspan x="148.914062" y="-0.78125" style="font-size: 8.320px; font-family: 'Liberation Sans', sans-serif; stroke: #000000; stroke-width: 0.2px; stroke-linejoin: round" textLength="7.793" lengthAdjust="spacingAndGlyphs">m</tspan>
     <tspan x="165.257422" y="-0.78125" style="font-size: 8.320px; font-family: 'Liberation Sans', sans-serif; stroke: #000000; stroke-width: 0.2px; stroke-linejoin: round" textLength="3.121" lengthAdjust="spacingAndGlyphs">)</tspan>
     <tspan x="25.621094" y="-0.78125" style="font-style: italic; font-size: 8.320px; font-family: 'Liberation Sans', sans-serif; stroke: #000000; stroke-width: 0.2px; stroke-linejoin: round" textLength="5.274" lengthAdjust="spacingAndGlyphs">α</tspan>
     <tspan x="156.783594" y="-3.84375" style="font-size: 5.824px; font-family: 'Liberation Sans', sans-serif; stroke: #000000; stroke-width: 0.1px; stroke-linejoin: round" textLength="4.692" lengthAdjust="spacingAndGlyphs">−</tspan>
     <tspan x="161.475781" y="-3.84375" style="font-size: 5.824px; font-family: 'Liberation Sans', sans-serif; stroke: #000000; stroke-width: 0.1px; stroke-linejoin: round" textLength="3.563" lengthAdjust="spacingAndGlyphs">3</tspan>
    </text>
   </g>
  </g>
  <g id="patch_28">
   <path d="M 114.1 255.3 
L 129.9 255.3 
L 129.9 7 
L 114.1 7 
z
" style="fill: #808080; opacity: 0.56"/>
  </g>
  <g id="legend_2">
   <g id="patch_29">
    <path d="M 83.38 66.145437 
L 164.632 66.145437 
Q 166.112 66.145437 166.112 64.665437 
L 166.112 32.08 
Q 166.112 30.6 164.632 30.6 
L 83.38 30.6 
Q 81.9 30.6 81.9 32.08 
L 81.9 64.665437 
Q 81.9 66.145437 83.38 66.145437 
L 83.38 66.145437 
z
" style="fill: none; stroke: #cccccc; stroke-linejoin: miter"/>
   </g>
   <g id="line2d_53">
    <path d="M 84.86 36.592844 
L 92.445 36.592844 
L 100.03 36.592844 
" style="fill: none; stroke: #daa520; stroke-linecap: square"/>
   </g>
   <g id="text_49">
    
    <g style="fill: #111111" transform="translate(105.95 39.182844)">
     <text>
      <tspan x="0" y="-0.890625" style="font-style: italic; font-size: 7.696px; font-family: 'Liberation Sans', sans-serif; fill: #111111; stroke: #111111; stroke-width: 0.2px; stroke-linejoin: round" textLength="4.462" lengthAdjust="spacingAndGlyphs">P</tspan>
      <tspan x="22.617816" y="-0.890625" style="font-style: italic; font-size: 7.696px; font-family: 'Liberation Sans', sans-serif; fill: #111111; stroke: #111111; stroke-width: 0.2px; stroke-linejoin: round" textLength="4.462" lengthAdjust="spacingAndGlyphs">P</tspan>
      <tspan x="4.447327" y="0.257812" style="font-style: italic; font-size: 5.387px; font-family: 'Liberation Sans', sans-serif; fill: #111111; stroke: #111111; stroke-width: 0.1px; stroke-linejoin: round" textLength="3.875" lengthAdjust="spacingAndGlyphs">N</tspan>
      <tspan x="8.309119" y="0.257812" style="font-style: italic; font-size: 5.387px; font-family: 'Liberation Sans', sans-serif; fill: #111111; stroke: #111111; stroke-width: 0.1px; stroke-linejoin: round" textLength="3.554" lengthAdjust="spacingAndGlyphs">B</tspan>
      <tspan x="11.850775" y="0.257812" style="font-style: italic; font-size: 5.387px; font-family: 'Liberation Sans', sans-serif; fill: #111111; stroke: #111111; stroke-width: 0.1px; stroke-linejoin: round" textLength="1.528" lengthAdjust="spacingAndGlyphs">I</tspan>
      <tspan x="27.065143" y="0.257812" style="font-style: italic; font-size: 5.387px; font-family: 'Liberation Sans', sans-serif; fill: #111111; stroke: #111111; stroke-width: 0.1px; stroke-linejoin: round" textLength="1.528" lengthAdjust="spacingAndGlyphs">I</tspan>
      <tspan x="28.587677" y="0.257812" style="font-style: italic; font-size: 5.387px; font-family: 'Liberation Sans', sans-serif; fill: #111111; stroke: #111111; stroke-width: 0.1px; stroke-linejoin: round" textLength="3.617" lengthAdjust="spacingAndGlyphs">C</tspan>
      <tspan x="32.192352" y="0.257812" style="font-style: italic; font-size: 5.387px; font-family: 'Liberation Sans', sans-serif; fill: #111111; stroke: #111111; stroke-width: 0.1px; stroke-linejoin: round" textLength="3.599" lengthAdjust="spacingAndGlyphs">R</tspan>
      <tspan x="35.779382" y="0.257812" style="font-style: italic; font-size: 5.387px; font-family: 'Liberation Sans', sans-serif; fill: #111111; stroke: #111111; stroke-width: 0.1px; stroke-linejoin: round" textLength="3.895" lengthAdjust="spacingAndGlyphs">H</tspan>
      <tspan x="15.001544" y="-0.890625" style="font-size: 7.696px; font-family: 'Liberation Sans', sans-serif; fill: #111111; stroke: #111111; stroke-width: 0.2px; stroke-linejoin: round" textLength="6.200" lengthAdjust="spacingAndGlyphs">+</tspan>
     </text>
    </g>
   </g>
   <g id="line2d_54">
    <path d="M 84.86 47.824656 
L 92.445 47.824656 
L 100.03 47.824656 
" style="fill: none; stroke-dasharray: 1.1,2.2; stroke-dashoffset: 0; stroke: #daa520"/>
   </g>
   <g id="text_50">
    
    <g style="fill: #111111" transform="translate(105.95 50.414656)">
     <text>
      <tspan x="0" y="-0.890625" style="font-style: italic; font-size: 7.696px; font-family: 'Liberation Sans', sans-serif; fill: #111111; stroke: #111111; stroke-width: 0.2px; stroke-linejoin: round" textLength="4.462" lengthAdjust="spacingAndGlyphs">P</tspan>
      <tspan x="22.617816" y="-0.890625" style="font-style: italic; font-size: 7.696px; font-family: 'Liberation Sans', sans-serif; fill: #111111; stroke: #111111; stroke-width: 0.2px; stroke-linejoin: round" textLength="4.462" lengthAdjust="spacingAndGlyphs">P</tspan>
      <tspan x="48.905847" y="-0.890625" style="font-style: italic; font-size: 7.696px; font-family: 'Liberation Sans', sans-serif; fill: #111111; stroke: #111111; stroke-width: 0.2px; stroke-linejoin: round" textLength="4.462" lengthAdjust="spacingAndGlyphs">P</tspan>
      <tspan x="4.447327" y="0.257812" style="font-style: italic; font-size: 5.387px; font-family: 'Liberation Sans', sans-serif; fill: #111111; stroke: #111111; stroke-width: 0.1px; stroke-linejoin: round" textLength="3.875" lengthAdjust="spacingAndGlyphs">N</tspan>
      <tspan x="8.309119" y="0.257812" style="font-style: italic; font-size: 5.387px; font-family: 'Liberation Sans', sans-serif; fill: #111111; stroke: #111111; stroke-width: 0.1px; stroke-linejoin: round" textLength="3.554" lengthAdjust="spacingAndGlyphs">B</tspan>
      <tspan x="11.850775" y="0.257812" style="font-style: italic; font-size: 5.387px; font-family: 'Liberation Sans', sans-serif; fill: #111111; stroke: #111111; stroke-width: 0.1px; stroke-linejoin: round" textLength="1.528" lengthAdjust="spacingAndGlyphs">I</tspan>
      <tspan x="27.065143" y="0.257812" style="font-style: italic; font-size: 5.387px; font-family: 'Liberation Sans', sans-serif; fill: #111111; stroke: #111111; stroke-width: 0.1px; stroke-linejoin: round" textLength="1.528" lengthAdjust="spacingAndGlyphs">I</tspan>
      <tspan x="28.587677" y="0.257812" style="font-style: italic; font-size: 5.387px; font-family: 'Liberation Sans', sans-serif; fill: #111111; stroke: #111111; stroke-width: 0.1px; stroke-linejoin: round" textLength="3.617" lengthAdjust="spacingAndGlyphs">C</tspan>
      <tspan x="32.192352" y="0.257812" style="font-style: italic; font-size: 5.387px; font-family: 'Liberation Sans', sans-serif; fill: #111111; stroke: #111111; stroke-width: 0.1px; stroke-linejoin: round" textLength="3.599" lengthAdjust="spacingAndGlyphs">R</tspan>
      <tspan x="35.779382" y="0.257812" style="font-style: italic; font-size: 5.387px; font-family: 'Liberation Sans', sans-serif; fill: #111111; stroke: #111111; stroke-width: 0.1px; stroke-linejoin: round" textLength="3.895" lengthAdjust="spacingAndGlyphs">H</tspan>
      <tspan x="53.353174" y="0.257812" style="font-style: italic; font-size: 5.387px; font-family: 'Liberation Sans', sans-serif; fill: #111111; stroke: #111111; stroke-width: 0.1px; stroke-linejoin: round" textLength="3.415" lengthAdjust="spacingAndGlyphs">α</tspan>
      <tspan x="15.001544" y="-0.890625" style="font-size: 7.696px; font-family: 'Liberation Sans', sans-serif; fill: #111111; stroke: #111111; stroke-width: 0.2px; stroke-linejoin: round" textLength="6.200" lengthAdjust="spacingAndGlyphs">+</tspan>
      <tspan x="41.289575" y="-0.890625" style="font-size: 7.696px; font-family: 'Liberation Sans', sans-serif; fill: #111111; stroke: #111111; stroke-width: 0.2px; stroke-linejoin: round" textLength="6.200" lengthAdjust="spacingAndGlyphs">+</tspan>
     </text>
    </g>
   </g>
   <g id="line2d_55">
    <path d="M 84.86 59.056469 
L 92.445 59.056469 
L 100.03 59.056469 
" style="fill: none; stroke-dasharray: 5.5,3.2; stroke-dashoffset: 0; stroke: #daa520; stroke-width: 1.1"/>
   </g>
   <g id="text_51">
    
    <g style="fill: #111111" transform="translate(105.95 61.646469)">
     <text>
      <tspan x="0" y="-0.890625" style="font-style: italic; font-size: 7.696px; font-family: 'Liberation Sans', sans-serif; fill: #111111; stroke: #111111; stroke-width: 0.2px; stroke-linejoin: round" textLength="4.462" lengthAdjust="spacingAndGlyphs">P</tspan>
      <tspan x="4.447327" y="0.257812" style="font-style: italic; font-size: 5.387px; font-family: 'Liberation Sans', sans-serif; fill: #111111; stroke: #111111; stroke-width: 0.1px; stroke-linejoin: round" textLength="3.415" lengthAdjust="spacingAndGlyphs">α</tspan>
     </text>
    </g>
   </g>
  </g>
 </g>
 <defs>
  <clipPath id="pbd2e91b6e9">
   <rect x="21.4" y="7" width="204.7" height="62.4"/>
  </clipPath>
  <clipPath id="pb6e6c9d024">
   <rect x="21.4" y="69.4" width="204.7" height="61.9"/>
  </clipPath>
  <clipPath id="p4833c43dc9">
   <rect x="21.4" y="131.3" width="204.7" height="62.1"/>
  </clipPath>
  <clipPath id="p5b21f328ec">
   <rect x="21.4" y="193.4" width="204.7" height="61.9"/>
  </clipPath>
  <clipPath id="p0b0e7a64f3">
   <rect x="302.8" y="16.5" width="230.5" height="225.1"/>
  </clipPath>
 </defs>
</svg>

</body></html>
